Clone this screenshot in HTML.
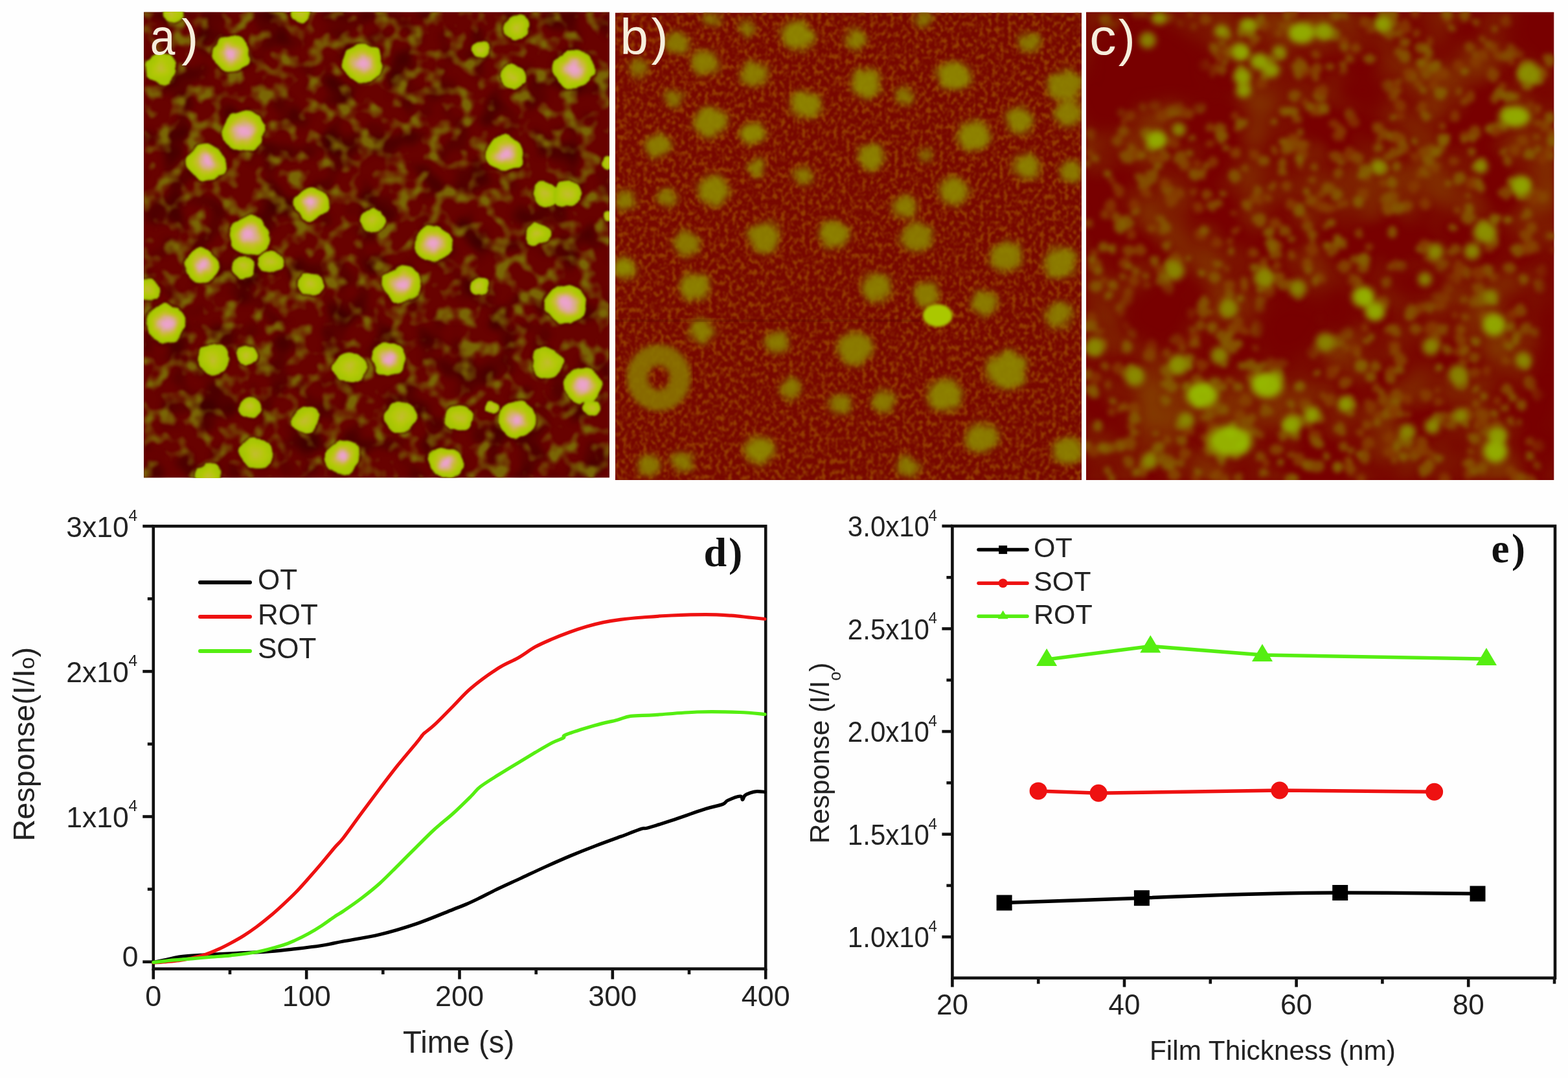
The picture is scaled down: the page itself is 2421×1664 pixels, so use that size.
<!DOCTYPE html>
<html><head><meta charset="utf-8"><title>AFM images and sensor response</title>
<style>html,body{margin:0;padding:0;background:#fff;}body{width:2421px;height:1664px;overflow:hidden;}svg{display:block;}</style>
</head><body>
<svg width="2421" height="1664" viewBox="0 0 2421 1664">
<rect x="0" y="0" width="2421" height="1664" fill="#fefefe"/>
<defs>
<clipPath id="clipA"><rect x="222.0" y="18.5" width="719.0" height="719.0"/></clipPath>
<clipPath id="clipB"><rect x="950.0" y="19.5" width="720.0" height="721.5"/></clipPath>
<clipPath id="clipC"><rect x="1677.0" y="18.5" width="722.5" height="722.5"/></clipPath>
<radialGradient id="gPink" cx="50%" cy="50%" r="50%"><stop offset="0" stop-color="#eea2d0"/><stop offset="0.18" stop-color="#e8a4c0"/><stop offset="0.38" stop-color="#d8ae80"/><stop offset="0.55" stop-color="#c8bc30"/><stop offset="0.72" stop-color="#b4c808"/><stop offset="0.9" stop-color="#a8c800"/><stop offset="1" stop-color="#9cc000"/></radialGradient>
<radialGradient id="gYG" cx="50%" cy="50%" r="50%"><stop offset="0" stop-color="#c4bc30"/><stop offset="0.5" stop-color="#b4c808"/><stop offset="1" stop-color="#a0c400"/></radialGradient>
<filter color-interpolation-filters="sRGB" id="bl2" x="-20%" y="-20%" width="140%" height="140%"><feGaussianBlur stdDeviation="2.2"/></filter>
<filter color-interpolation-filters="sRGB" id="bl4" x="-30%" y="-30%" width="160%" height="160%"><feGaussianBlur stdDeviation="4"/></filter>
<filter color-interpolation-filters="sRGB" id="bl12" x="-50%" y="-50%" width="200%" height="200%"><feGaussianBlur stdDeviation="14"/></filter>
<filter color-interpolation-filters="sRGB" id="bl6" x="-30%" y="-30%" width="160%" height="160%"><feGaussianBlur stdDeviation="6"/></filter>
<filter color-interpolation-filters="sRGB" id="texA" x="0" y="0" width="100%" height="100%" filterUnits="objectBoundingBox"><feTurbulence type="fractalNoise" baseFrequency="0.038" numOctaves="2" seed="7"/><feColorMatrix type="matrix" values="0 0 0 0 0.48  0 0 0 0 0.40  0 0 0 0 0.02  4.0 0 0 0 -1.95"/><feGaussianBlur stdDeviation="1.5"/></filter>
<filter color-interpolation-filters="sRGB" id="texB" x="0" y="0" width="100%" height="100%" filterUnits="objectBoundingBox"><feTurbulence type="fractalNoise" baseFrequency="0.16 0.12" numOctaves="2" seed="11"/><feColorMatrix type="matrix" values="0 0 0 0 0.58  0 0 0 0 0.24  0 0 0 0 0  3.4 0 0 0 -1.50"/><feGaussianBlur stdDeviation="0.8"/></filter>
<filter color-interpolation-filters="sRGB" id="roughB" x="-10%" y="-10%" width="120%" height="120%"><feTurbulence type="fractalNoise" baseFrequency="0.06" numOctaves="3" seed="5" result="t"/><feDisplacementMap in="SourceGraphic" in2="t" scale="16" xChannelSelector="R" yChannelSelector="G" result="d"/><feGaussianBlur in="d" stdDeviation="4.2"/></filter>
<filter color-interpolation-filters="sRGB" id="roughA" x="-10%" y="-10%" width="120%" height="120%"><feTurbulence type="fractalNoise" baseFrequency="0.04" numOctaves="2" seed="9" result="t"/><feDisplacementMap in="SourceGraphic" in2="t" scale="13" xChannelSelector="R" yChannelSelector="G" result="d"/><feGaussianBlur in="d" stdDeviation="1.6"/></filter>
<filter color-interpolation-filters="sRGB" id="texC" x="0" y="0" width="100%" height="100%" filterUnits="objectBoundingBox"><feTurbulence type="fractalNoise" baseFrequency="0.07" numOctaves="2" seed="19"/><feColorMatrix type="matrix" values="0 0 0 0 0.50  0 0 0 0 0.36  0 0 0 0 0  3.4 0 0 0 -1.65"/><feGaussianBlur stdDeviation="1.8"/></filter>
<filter color-interpolation-filters="sRGB" id="hazeC" x="0" y="0" width="100%" height="100%" filterUnits="objectBoundingBox"><feTurbulence type="fractalNoise" baseFrequency="0.012" numOctaves="2" seed="3"/><feColorMatrix type="matrix" values="0 0 0 0 0.52  0 0 0 0 0.26  0 0 0 0 0  1.6 0 0 0 -0.55"/><feGaussianBlur stdDeviation="4"/></filter>
<filter color-interpolation-filters="sRGB" id="roughC" x="-10%" y="-10%" width="120%" height="120%"><feTurbulence type="fractalNoise" baseFrequency="0.09" numOctaves="2" seed="15" result="t"/><feDisplacementMap in="SourceGraphic" in2="t" scale="8" xChannelSelector="R" yChannelSelector="G" result="d"/><feGaussianBlur in="d" stdDeviation="3.6"/></filter>
<filter color-interpolation-filters="sRGB" id="darkA" x="0" y="0" width="100%" height="100%" filterUnits="objectBoundingBox"><feTurbulence type="fractalNoise" baseFrequency="0.02" numOctaves="2" seed="23"/><feColorMatrix type="matrix" values="0 0 0 0 0.25  0 0 0 0 0  0 0 0 0 0  3.0 0 0 0 -1.45"/><feGaussianBlur stdDeviation="3"/></filter>
</defs>
<g clip-path="url(#clipA)">
<rect x="222.0" y="18.5" width="719.0" height="719.0" fill="#680200"/>
<rect x="222.0" y="18.5" width="719.0" height="719.0" fill="#000" filter="url(#darkA)"/>
<rect x="222.0" y="18.5" width="719.0" height="719.0" fill="#000" filter="url(#texA)"/>
<g filter="url(#roughA)">
<ellipse cx="357" cy="83" rx="32" ry="31" fill="#4c0000" opacity="0.55"/>
<ellipse cx="248" cy="105" rx="27" ry="26" fill="#4c0000" opacity="0.55"/>
<ellipse cx="560" cy="98" rx="34" ry="33" fill="#4c0000" opacity="0.55"/>
<ellipse cx="798" cy="43" rx="24" ry="23" fill="#4c0000" opacity="0.55"/>
<ellipse cx="743" cy="76" rx="17" ry="16" fill="#4c0000" opacity="0.55"/>
<ellipse cx="793" cy="119" rx="22" ry="21" fill="#4c0000" opacity="0.55"/>
<ellipse cx="886" cy="107" rx="34" ry="33" fill="#4c0000" opacity="0.55"/>
<ellipse cx="376" cy="202" rx="36" ry="35" fill="#4c0000" opacity="0.55"/>
<ellipse cx="319" cy="250" rx="32" ry="31" fill="#4c0000" opacity="0.55"/>
<ellipse cx="781" cy="238" rx="32" ry="31" fill="#4c0000" opacity="0.55"/>
<ellipse cx="481" cy="314" rx="29" ry="28" fill="#4c0000" opacity="0.55"/>
<ellipse cx="843" cy="300" rx="22" ry="21" fill="#4c0000" opacity="0.55"/>
<ellipse cx="876" cy="300" rx="24" ry="23" fill="#4c0000" opacity="0.55"/>
<ellipse cx="576" cy="340" rx="22" ry="21" fill="#4c0000" opacity="0.55"/>
<ellipse cx="386" cy="364" rx="34" ry="33" fill="#4c0000" opacity="0.55"/>
<ellipse cx="669" cy="376" rx="32" ry="31" fill="#4c0000" opacity="0.55"/>
<ellipse cx="829" cy="362" rx="22" ry="21" fill="#4c0000" opacity="0.55"/>
<ellipse cx="312" cy="410" rx="29" ry="28" fill="#4c0000" opacity="0.55"/>
<ellipse cx="376" cy="412" rx="20" ry="19" fill="#4c0000" opacity="0.55"/>
<ellipse cx="417" cy="405" rx="22" ry="21" fill="#4c0000" opacity="0.55"/>
<ellipse cx="481" cy="438" rx="22" ry="21" fill="#4c0000" opacity="0.55"/>
<ellipse cx="621" cy="438" rx="32" ry="31" fill="#4c0000" opacity="0.55"/>
<ellipse cx="740" cy="443" rx="17" ry="16" fill="#4c0000" opacity="0.55"/>
<ellipse cx="229" cy="448" rx="21" ry="20" fill="#4c0000" opacity="0.55"/>
<ellipse cx="874" cy="469" rx="34" ry="33" fill="#4c0000" opacity="0.55"/>
<ellipse cx="257" cy="500" rx="34" ry="33" fill="#4c0000" opacity="0.55"/>
<ellipse cx="329" cy="555" rx="27" ry="26" fill="#4c0000" opacity="0.55"/>
<ellipse cx="381" cy="548" rx="20" ry="19" fill="#4c0000" opacity="0.55"/>
<ellipse cx="540" cy="567" rx="27" ry="26" fill="#4c0000" opacity="0.55"/>
<ellipse cx="600" cy="555" rx="29" ry="28" fill="#4c0000" opacity="0.55"/>
<ellipse cx="845" cy="560" rx="27" ry="26" fill="#4c0000" opacity="0.55"/>
<ellipse cx="900" cy="595" rx="32" ry="31" fill="#4c0000" opacity="0.55"/>
<ellipse cx="914" cy="631" rx="17" ry="16" fill="#4c0000" opacity="0.55"/>
<ellipse cx="386" cy="629" rx="20" ry="19" fill="#4c0000" opacity="0.55"/>
<ellipse cx="471" cy="648" rx="24" ry="23" fill="#4c0000" opacity="0.55"/>
<ellipse cx="619" cy="643" rx="27" ry="26" fill="#4c0000" opacity="0.55"/>
<ellipse cx="710" cy="645" rx="24" ry="23" fill="#4c0000" opacity="0.55"/>
<ellipse cx="760" cy="629" rx="13" ry="12" fill="#4c0000" opacity="0.55"/>
<ellipse cx="798" cy="648" rx="32" ry="31" fill="#4c0000" opacity="0.55"/>
<ellipse cx="395" cy="700" rx="27" ry="26" fill="#4c0000" opacity="0.55"/>
<ellipse cx="529" cy="705" rx="29" ry="28" fill="#4c0000" opacity="0.55"/>
<ellipse cx="688" cy="714" rx="29" ry="28" fill="#4c0000" opacity="0.55"/>
<ellipse cx="321" cy="734" rx="23" ry="22" fill="#4c0000" opacity="0.55"/>
<ellipse cx="464" cy="21" rx="18" ry="17" fill="#4c0000" opacity="0.55"/>
<ellipse cx="267" cy="22" rx="17" ry="16" fill="#4c0000" opacity="0.55"/>
<ellipse cx="940" cy="250" rx="13" ry="12" fill="#4c0000" opacity="0.55"/>
<ellipse cx="940" cy="335" rx="12" ry="11" fill="#4c0000" opacity="0.55"/>
<ellipse cx="357" cy="83" rx="29.6" ry="27.8" fill="url(#gPink)"/>
<ellipse cx="248" cy="105" rx="24.5" ry="23.0" fill="url(#gYG)"/>
<ellipse cx="560" cy="98" rx="31.6" ry="29.8" fill="url(#gPink)"/>
<ellipse cx="798" cy="43" rx="21.4" ry="20.2" fill="url(#gYG)"/>
<ellipse cx="743" cy="76" rx="14.3" ry="13.4" fill="url(#gYG)"/>
<ellipse cx="793" cy="119" rx="19.4" ry="18.2" fill="url(#gYG)"/>
<ellipse cx="886" cy="107" rx="31.6" ry="29.8" fill="url(#gPink)"/>
<ellipse cx="376" cy="202" rx="33.7" ry="31.7" fill="url(#gPink)"/>
<ellipse cx="319" cy="250" rx="29.6" ry="27.8" fill="url(#gPink)"/>
<ellipse cx="781" cy="238" rx="29.6" ry="27.8" fill="url(#gPink)"/>
<ellipse cx="481" cy="314" rx="26.5" ry="25.0" fill="url(#gPink)"/>
<ellipse cx="843" cy="300" rx="19.4" ry="18.2" fill="url(#gYG)"/>
<ellipse cx="876" cy="300" rx="21.4" ry="20.2" fill="url(#gYG)"/>
<ellipse cx="576" cy="340" rx="19.4" ry="18.2" fill="url(#gYG)"/>
<ellipse cx="386" cy="364" rx="31.6" ry="29.8" fill="url(#gPink)"/>
<ellipse cx="669" cy="376" rx="29.6" ry="27.8" fill="url(#gPink)"/>
<ellipse cx="829" cy="362" rx="19.4" ry="18.2" fill="url(#gYG)"/>
<ellipse cx="312" cy="410" rx="26.5" ry="25.0" fill="url(#gPink)"/>
<ellipse cx="376" cy="412" rx="17.3" ry="16.3" fill="url(#gYG)"/>
<ellipse cx="417" cy="405" rx="19.4" ry="18.2" fill="url(#gYG)"/>
<ellipse cx="481" cy="438" rx="19.4" ry="18.2" fill="url(#gYG)"/>
<ellipse cx="621" cy="438" rx="29.6" ry="27.8" fill="url(#gPink)"/>
<ellipse cx="740" cy="443" rx="14.3" ry="13.4" fill="url(#gYG)"/>
<ellipse cx="229" cy="448" rx="18.4" ry="17.3" fill="url(#gYG)"/>
<ellipse cx="874" cy="469" rx="31.6" ry="29.8" fill="url(#gPink)"/>
<ellipse cx="257" cy="500" rx="31.6" ry="29.8" fill="url(#gPink)"/>
<ellipse cx="329" cy="555" rx="24.5" ry="23.0" fill="url(#gYG)"/>
<ellipse cx="381" cy="548" rx="17.3" ry="16.3" fill="url(#gYG)"/>
<ellipse cx="540" cy="567" rx="24.5" ry="23.0" fill="url(#gYG)"/>
<ellipse cx="600" cy="555" rx="26.5" ry="25.0" fill="url(#gPink)"/>
<ellipse cx="845" cy="560" rx="24.5" ry="23.0" fill="url(#gYG)"/>
<ellipse cx="900" cy="595" rx="29.6" ry="27.8" fill="url(#gPink)"/>
<ellipse cx="914" cy="631" rx="14.3" ry="13.4" fill="url(#gYG)"/>
<ellipse cx="386" cy="629" rx="17.3" ry="16.3" fill="url(#gYG)"/>
<ellipse cx="471" cy="648" rx="21.4" ry="20.2" fill="url(#gYG)"/>
<ellipse cx="619" cy="643" rx="24.5" ry="23.0" fill="url(#gYG)"/>
<ellipse cx="710" cy="645" rx="21.4" ry="20.2" fill="url(#gYG)"/>
<ellipse cx="760" cy="629" rx="10.2" ry="9.6" fill="url(#gYG)"/>
<ellipse cx="798" cy="648" rx="29.6" ry="27.8" fill="url(#gPink)"/>
<ellipse cx="395" cy="700" rx="24.5" ry="23.0" fill="url(#gYG)"/>
<ellipse cx="529" cy="705" rx="26.5" ry="25.0" fill="url(#gPink)"/>
<ellipse cx="688" cy="714" rx="26.5" ry="25.0" fill="url(#gPink)"/>
<ellipse cx="321" cy="734" rx="20.4" ry="19.2" fill="url(#gYG)"/>
<ellipse cx="464" cy="21" rx="15.3" ry="14.4" fill="url(#gYG)"/>
<ellipse cx="267" cy="22" rx="14.3" ry="13.4" fill="url(#gYG)"/>
<ellipse cx="940" cy="250" rx="10.2" ry="9.6" fill="url(#gYG)"/>
<ellipse cx="940" cy="335" rx="9.2" ry="8.6" fill="url(#gYG)"/>
</g>
<text x="231.7" y="84.4" font-family="Liberation Sans, Arial, sans-serif" font-size="78" fill="#f6eedc" transform="translate(231.7,0) scale(0.89,1) translate(-231.7,0)">a</text>
<text x="280.2" y="85" font-family="Liberation Sans, Arial, sans-serif" font-size="78" fill="#f6eedc">)</text>
</g>
<g clip-path="url(#clipB)">
<rect x="950.0" y="19.5" width="720.0" height="721.5" fill="#780800"/>
<rect x="950.0" y="19.5" width="720.0" height="721.5" fill="#000" filter="url(#texB)"/>
<g filter="url(#roughB)">
<ellipse cx="1230.5" cy="54.8" rx="28.9" ry="27.1" fill="#8e8a00" opacity="0.42"/>
<ellipse cx="1321" cy="62" rx="20.6" ry="19.4" fill="#8c8300" opacity="0.42"/>
<ellipse cx="1087.6" cy="97.6" rx="24.3" ry="22.8" fill="#8c8300" opacity="0.42"/>
<ellipse cx="1163.8" cy="114" rx="24.3" ry="22.8" fill="#8c8300" opacity="0.42"/>
<ellipse cx="1337.6" cy="128.6" rx="27.1" ry="25.4" fill="#8e8a00" opacity="0.42"/>
<ellipse cx="1473.3" cy="116.7" rx="28.9" ry="27.1" fill="#8e8a00" opacity="0.42"/>
<ellipse cx="1590" cy="66.7" rx="20.6" ry="19.4" fill="#8a7d00" opacity="0.42"/>
<ellipse cx="1644.8" cy="133" rx="30.8" ry="28.8" fill="#8c8300" opacity="0.42"/>
<ellipse cx="1650" cy="175" rx="25.2" ry="23.7" fill="#8c8300" opacity="0.42"/>
<ellipse cx="1244.8" cy="162" rx="27.1" ry="25.4" fill="#8e8a00" opacity="0.42"/>
<ellipse cx="1397" cy="147.6" rx="17.9" ry="16.9" fill="#8a7d00" opacity="0.42"/>
<ellipse cx="1097" cy="188" rx="28.9" ry="27.1" fill="#8d8600" opacity="0.42"/>
<ellipse cx="1161" cy="204.8" rx="22.5" ry="21.1" fill="#8f8d00" opacity="0.42"/>
<ellipse cx="1016" cy="224" rx="24.3" ry="22.8" fill="#8c8300" opacity="0.42"/>
<ellipse cx="1504" cy="209.5" rx="28.9" ry="27.1" fill="#8e8a00" opacity="0.42"/>
<ellipse cx="1573" cy="185.7" rx="24.3" ry="22.8" fill="#8d8600" opacity="0.42"/>
<ellipse cx="1344.8" cy="243" rx="24.3" ry="22.8" fill="#8d8600" opacity="0.42"/>
<ellipse cx="1168.6" cy="259.5" rx="16.0" ry="15.2" fill="#8c8300" opacity="0.42"/>
<ellipse cx="1240" cy="271.4" rx="17.9" ry="16.9" fill="#8b8000" opacity="0.42"/>
<ellipse cx="1585" cy="257" rx="24.3" ry="22.8" fill="#8d8600" opacity="0.42"/>
<ellipse cx="1654" cy="264" rx="20.6" ry="19.4" fill="#8b8000" opacity="0.42"/>
<ellipse cx="1102" cy="295" rx="28.9" ry="27.1" fill="#8d8600" opacity="0.42"/>
<ellipse cx="1030.5" cy="304.8" rx="17.9" ry="16.9" fill="#8a7d00" opacity="0.42"/>
<ellipse cx="966" cy="309.5" rx="20.6" ry="19.4" fill="#8b8000" opacity="0.42"/>
<ellipse cx="1473" cy="295" rx="27.1" ry="25.4" fill="#8d8600" opacity="0.42"/>
<ellipse cx="1397" cy="319" rx="22.5" ry="21.1" fill="#8c8300" opacity="0.42"/>
<ellipse cx="1180.5" cy="366.7" rx="28.9" ry="27.1" fill="#8c8300" opacity="0.42"/>
<ellipse cx="1287.6" cy="362" rx="27.1" ry="25.4" fill="#8d8600" opacity="0.42"/>
<ellipse cx="1416" cy="366.7" rx="28.9" ry="27.1" fill="#8b8000" opacity="0.42"/>
<ellipse cx="1059" cy="376" rx="24.3" ry="22.8" fill="#8b8000" opacity="0.42"/>
<ellipse cx="1554" cy="395" rx="28.9" ry="27.1" fill="#8c8300" opacity="0.42"/>
<ellipse cx="1637" cy="405" rx="28.9" ry="27.1" fill="#8c8300" opacity="0.42"/>
<ellipse cx="963.8" cy="414" rx="20.6" ry="19.4" fill="#909000" opacity="0.42"/>
<ellipse cx="1073" cy="443" rx="27.1" ry="25.4" fill="#8d8600" opacity="0.42"/>
<ellipse cx="1354" cy="445" rx="27.1" ry="25.4" fill="#8c8300" opacity="0.42"/>
<ellipse cx="1429" cy="455" rx="23.4" ry="22.0" fill="#8c8300" opacity="0.42"/>
<ellipse cx="1521" cy="466.7" rx="24.3" ry="22.8" fill="#8c8300" opacity="0.42"/>
<ellipse cx="1635" cy="485.7" rx="24.3" ry="22.8" fill="#8b8000" opacity="0.42"/>
<ellipse cx="1083" cy="512" rx="22.5" ry="21.1" fill="#8c8300" opacity="0.42"/>
<ellipse cx="1199.5" cy="528.6" rx="22.5" ry="21.1" fill="#8b8000" opacity="0.42"/>
<ellipse cx="1321" cy="538" rx="30.8" ry="28.8" fill="#8c8300" opacity="0.42"/>
<ellipse cx="1554" cy="571" rx="35.4" ry="33.0" fill="#8d8600" opacity="0.42"/>
<ellipse cx="1459" cy="609.5" rx="30.8" ry="28.8" fill="#8d8600" opacity="0.42"/>
<ellipse cx="1221" cy="600" rx="20.6" ry="19.4" fill="#8b8000" opacity="0.42"/>
<ellipse cx="1297" cy="624" rx="20.6" ry="19.4" fill="#8a7d00" opacity="0.42"/>
<ellipse cx="1364" cy="619" rx="22.5" ry="21.1" fill="#8b8000" opacity="0.42"/>
<ellipse cx="1516" cy="676" rx="28.9" ry="27.1" fill="#8c8300" opacity="0.42"/>
<ellipse cx="1173" cy="695" rx="27.1" ry="25.4" fill="#8e8a00" opacity="0.42"/>
<ellipse cx="1649.5" cy="695" rx="27.1" ry="25.4" fill="#8c8300" opacity="0.42"/>
<ellipse cx="1002" cy="719" rx="20.6" ry="19.4" fill="#8a7d00" opacity="0.42"/>
<ellipse cx="1054" cy="712" rx="20.6" ry="19.4" fill="#8a7d00" opacity="0.42"/>
<ellipse cx="1402" cy="719" rx="20.6" ry="19.4" fill="#8a7d00" opacity="0.42"/>
<ellipse cx="1100" cy="30" rx="17.0" ry="16.0" fill="#866f00" opacity="0.42"/>
<ellipse cx="1045" cy="66" rx="21.6" ry="20.3" fill="#8a7d00" opacity="0.42"/>
<ellipse cx="1425" cy="30" rx="16.0" ry="15.2" fill="#887600" opacity="0.42"/>
<ellipse cx="1430" cy="240" rx="14.2" ry="13.5" fill="#887600" opacity="0.42"/>
<ellipse cx="986" cy="105" rx="18.8" ry="17.8" fill="#887600" opacity="0.42"/>
<ellipse cx="1040" cy="152" rx="17.9" ry="16.9" fill="#887600" opacity="0.42"/>
<ellipse cx="1153" cy="44" rx="16.0" ry="15.2" fill="#887600" opacity="0.42"/>
<ellipse cx="1230.5" cy="54.8" rx="22.1" ry="20.3" fill="#8e8a00" opacity="0.88"/>
<ellipse cx="1321" cy="62" rx="14.4" ry="13.3" fill="#8c8300" opacity="0.88"/>
<ellipse cx="1087.6" cy="97.6" rx="17.8" ry="16.4" fill="#8c8300" opacity="0.88"/>
<ellipse cx="1163.8" cy="114" rx="17.8" ry="16.4" fill="#8c8300" opacity="0.88"/>
<ellipse cx="1337.6" cy="128.6" rx="20.4" ry="18.7" fill="#8e8a00" opacity="0.88"/>
<ellipse cx="1473.3" cy="116.7" rx="22.1" ry="20.3" fill="#8e8a00" opacity="0.88"/>
<ellipse cx="1590" cy="66.7" rx="14.4" ry="13.3" fill="#8a7d00" opacity="0.88"/>
<ellipse cx="1644.8" cy="133" rx="23.8" ry="21.8" fill="#8c8300" opacity="0.88"/>
<ellipse cx="1650" cy="175" rx="18.7" ry="17.2" fill="#8c8300" opacity="0.88"/>
<ellipse cx="1244.8" cy="162" rx="20.4" ry="18.7" fill="#8e8a00" opacity="0.88"/>
<ellipse cx="1397" cy="147.6" rx="11.9" ry="10.9" fill="#8a7d00" opacity="0.88"/>
<ellipse cx="1097" cy="188" rx="22.1" ry="20.3" fill="#8d8600" opacity="0.88"/>
<ellipse cx="1161" cy="204.8" rx="16.1" ry="14.8" fill="#8f8d00" opacity="0.88"/>
<ellipse cx="1016" cy="224" rx="17.8" ry="16.4" fill="#8c8300" opacity="0.88"/>
<ellipse cx="1504" cy="209.5" rx="22.1" ry="20.3" fill="#8e8a00" opacity="0.88"/>
<ellipse cx="1573" cy="185.7" rx="17.8" ry="16.4" fill="#8d8600" opacity="0.88"/>
<ellipse cx="1344.8" cy="243" rx="17.8" ry="16.4" fill="#8d8600" opacity="0.88"/>
<ellipse cx="1168.6" cy="259.5" rx="10.2" ry="9.4" fill="#8c8300" opacity="0.88"/>
<ellipse cx="1240" cy="271.4" rx="11.9" ry="10.9" fill="#8b8000" opacity="0.88"/>
<ellipse cx="1585" cy="257" rx="17.8" ry="16.4" fill="#8d8600" opacity="0.88"/>
<ellipse cx="1654" cy="264" rx="14.4" ry="13.3" fill="#8b8000" opacity="0.88"/>
<ellipse cx="1102" cy="295" rx="22.1" ry="20.3" fill="#8d8600" opacity="0.88"/>
<ellipse cx="1030.5" cy="304.8" rx="11.9" ry="10.9" fill="#8a7d00" opacity="0.88"/>
<ellipse cx="966" cy="309.5" rx="14.4" ry="13.3" fill="#8b8000" opacity="0.88"/>
<ellipse cx="1473" cy="295" rx="20.4" ry="18.7" fill="#8d8600" opacity="0.88"/>
<ellipse cx="1397" cy="319" rx="16.1" ry="14.8" fill="#8c8300" opacity="0.88"/>
<ellipse cx="1180.5" cy="366.7" rx="22.1" ry="20.3" fill="#8c8300" opacity="0.88"/>
<ellipse cx="1287.6" cy="362" rx="20.4" ry="18.7" fill="#8d8600" opacity="0.88"/>
<ellipse cx="1416" cy="366.7" rx="22.1" ry="20.3" fill="#8b8000" opacity="0.88"/>
<ellipse cx="1059" cy="376" rx="17.8" ry="16.4" fill="#8b8000" opacity="0.88"/>
<ellipse cx="1554" cy="395" rx="22.1" ry="20.3" fill="#8c8300" opacity="0.88"/>
<ellipse cx="1637" cy="405" rx="22.1" ry="20.3" fill="#8c8300" opacity="0.88"/>
<ellipse cx="963.8" cy="414" rx="14.4" ry="13.3" fill="#909000" opacity="0.88"/>
<ellipse cx="1073" cy="443" rx="20.4" ry="18.7" fill="#8d8600" opacity="0.88"/>
<ellipse cx="1354" cy="445" rx="20.4" ry="18.7" fill="#8c8300" opacity="0.88"/>
<ellipse cx="1429" cy="455" rx="17.0" ry="15.6" fill="#8c8300" opacity="0.88"/>
<ellipse cx="1521" cy="466.7" rx="17.8" ry="16.4" fill="#8c8300" opacity="0.88"/>
<ellipse cx="1635" cy="485.7" rx="17.8" ry="16.4" fill="#8b8000" opacity="0.88"/>
<ellipse cx="1083" cy="512" rx="16.1" ry="14.8" fill="#8c8300" opacity="0.88"/>
<ellipse cx="1199.5" cy="528.6" rx="16.1" ry="14.8" fill="#8b8000" opacity="0.88"/>
<ellipse cx="1321" cy="538" rx="23.8" ry="21.8" fill="#8c8300" opacity="0.88"/>
<ellipse cx="1554" cy="571" rx="28.1" ry="25.7" fill="#8d8600" opacity="0.88"/>
<ellipse cx="1459" cy="609.5" rx="23.8" ry="21.8" fill="#8d8600" opacity="0.88"/>
<ellipse cx="1221" cy="600" rx="14.4" ry="13.3" fill="#8b8000" opacity="0.88"/>
<ellipse cx="1297" cy="624" rx="14.4" ry="13.3" fill="#8a7d00" opacity="0.88"/>
<ellipse cx="1364" cy="619" rx="16.1" ry="14.8" fill="#8b8000" opacity="0.88"/>
<ellipse cx="1516" cy="676" rx="22.1" ry="20.3" fill="#8c8300" opacity="0.88"/>
<ellipse cx="1173" cy="695" rx="20.4" ry="18.7" fill="#8e8a00" opacity="0.88"/>
<ellipse cx="1649.5" cy="695" rx="20.4" ry="18.7" fill="#8c8300" opacity="0.88"/>
<ellipse cx="1002" cy="719" rx="14.4" ry="13.3" fill="#8a7d00" opacity="0.88"/>
<ellipse cx="1054" cy="712" rx="14.4" ry="13.3" fill="#8a7d00" opacity="0.88"/>
<ellipse cx="1402" cy="719" rx="14.4" ry="13.3" fill="#8a7d00" opacity="0.88"/>
<ellipse cx="1100" cy="30" rx="11.0" ry="10.1" fill="#866f00" opacity="0.88"/>
<ellipse cx="1045" cy="66" rx="15.3" ry="14.0" fill="#8a7d00" opacity="0.88"/>
<ellipse cx="1425" cy="30" rx="10.2" ry="9.4" fill="#887600" opacity="0.88"/>
<ellipse cx="1430" cy="240" rx="8.5" ry="7.8" fill="#887600" opacity="0.88"/>
<ellipse cx="986" cy="105" rx="12.8" ry="11.7" fill="#887600" opacity="0.88"/>
<ellipse cx="1040" cy="152" rx="11.9" ry="10.9" fill="#887600" opacity="0.88"/>
<ellipse cx="1153" cy="44" rx="10.2" ry="9.4" fill="#887600" opacity="0.88"/>
</g>
<g filter="url(#bl4)"><ellipse cx="1017" cy="583" rx="33" ry="35" fill="none" stroke="#8a7400" stroke-width="33" opacity="0.9"/></g>
<g filter="url(#bl2)"><ellipse cx="1447.7" cy="487" rx="23" ry="17.5" fill="#aac800"/></g>
<rect x="950" y="493" width="470" height="4" fill="#4a0000" opacity="0.18"/>
<text x="957.4" y="84.3" font-family="Liberation Sans, Arial, sans-serif" font-size="78" fill="#f6eedc" transform="translate(957.4,0) scale(1.0,1) translate(-957.4,0)">b</text>
<text x="1005.4" y="83.5" font-family="Liberation Sans, Arial, sans-serif" font-size="78" fill="#f6eedc">)</text>
</g>
<mask id="maskC" maskUnits="userSpaceOnUse" x="1677" y="18" width="723" height="724">
<rect x="1677.0" y="18.5" width="722.5" height="722.5" fill="#fff"/>
<g filter="url(#bl12)">
<ellipse cx="1770" cy="95" rx="95" ry="70" fill="#000"/>
<ellipse cx="1700" cy="160" rx="30" ry="50" fill="#000"/>
<ellipse cx="1850" cy="140" rx="45" ry="25" fill="#000"/>
<ellipse cx="1785" cy="487" rx="55" ry="42" fill="#000"/>
<ellipse cx="1990" cy="507" rx="52" ry="52" fill="#000"/>
<ellipse cx="2065" cy="475" rx="32" ry="42" fill="#000"/>
<ellipse cx="2195" cy="435" rx="48" ry="26" fill="#000"/>
<ellipse cx="2370" cy="45" rx="40" ry="35" fill="#000"/>
<ellipse cx="2392" cy="560" rx="18" ry="190" fill="#000"/>
<ellipse cx="2100" cy="140" rx="40" ry="30" fill="#000"/>
</g></mask>
<g clip-path="url(#clipC)">
<rect x="1677.0" y="18.5" width="722.5" height="722.5" fill="#780000"/>
<rect x="1677.0" y="18.5" width="722.5" height="722.5" fill="#000" filter="url(#hazeC)" mask="url(#maskC)"/>
<g filter="url(#roughC)" mask="url(#maskC)">
<circle cx="2139.0" cy="36.6" r="6.5" fill="#874300" opacity="0.8"/>
<circle cx="2209.1" cy="507.4" r="9.9" fill="#873c00" opacity="0.8"/>
<circle cx="1981.8" cy="40.0" r="6.2" fill="#865100" opacity="0.8"/>
<circle cx="2146.5" cy="412.2" r="6.2" fill="#865500" opacity="0.8"/>
<circle cx="2261.8" cy="23.2" r="9.4" fill="#865a00" opacity="0.8"/>
<circle cx="1922.8" cy="130.8" r="10.3" fill="#874800" opacity="0.8"/>
<circle cx="2289.3" cy="454.7" r="9.4" fill="#865c00" opacity="0.8"/>
<circle cx="2064.4" cy="721.6" r="7.1" fill="#865300" opacity="0.8"/>
<circle cx="2276.2" cy="465.4" r="9.7" fill="#865400" opacity="0.8"/>
<circle cx="2186.1" cy="51.6" r="6.3" fill="#874600" opacity="0.8"/>
<circle cx="1734.6" cy="186.7" r="5.6" fill="#874500" opacity="0.8"/>
<circle cx="2136.3" cy="282.1" r="7.0" fill="#874200" opacity="0.8"/>
<circle cx="1869.9" cy="695.2" r="8.6" fill="#865600" opacity="0.8"/>
<circle cx="1800.6" cy="545.3" r="5.9" fill="#874a00" opacity="0.8"/>
<circle cx="2079.4" cy="513.1" r="9.6" fill="#865e00" opacity="0.8"/>
<circle cx="1842.5" cy="41.7" r="6.7" fill="#874500" opacity="0.8"/>
<circle cx="1829.4" cy="699.8" r="9.8" fill="#874700" opacity="0.8"/>
<circle cx="2150.6" cy="304.3" r="10.0" fill="#874e00" opacity="0.8"/>
<circle cx="1868.4" cy="196.7" r="8.1" fill="#874500" opacity="0.8"/>
<circle cx="2099.4" cy="667.2" r="7.2" fill="#874200" opacity="0.8"/>
<circle cx="2397.7" cy="386.6" r="5.5" fill="#873a00" opacity="0.8"/>
<circle cx="2249.3" cy="323.5" r="5.3" fill="#874b00" opacity="0.8"/>
<circle cx="1685.3" cy="539.2" r="8.7" fill="#865200" opacity="0.8"/>
<circle cx="1869.8" cy="481.6" r="5.6" fill="#874d00" opacity="0.8"/>
<circle cx="2004.8" cy="707.6" r="9.8" fill="#874500" opacity="0.8"/>
<circle cx="2038.7" cy="147.6" r="10.0" fill="#866300" opacity="0.8"/>
<circle cx="1892.6" cy="480.1" r="8.3" fill="#873f00" opacity="0.8"/>
<circle cx="2227.9" cy="408.2" r="9.3" fill="#865200" opacity="0.8"/>
<circle cx="1677.4" cy="252.7" r="5.1" fill="#866600" opacity="0.8"/>
<circle cx="2311.9" cy="619.4" r="6.7" fill="#873a00" opacity="0.8"/>
<circle cx="2311.4" cy="702.7" r="5.5" fill="#875000" opacity="0.8"/>
<circle cx="1727.0" cy="568.0" r="9.2" fill="#873e00" opacity="0.8"/>
<circle cx="2020.4" cy="415.7" r="6.5" fill="#866300" opacity="0.8"/>
<circle cx="1982.7" cy="171.5" r="8.0" fill="#865c00" opacity="0.8"/>
<circle cx="1822.3" cy="243.7" r="10.5" fill="#865800" opacity="0.8"/>
<circle cx="1993.5" cy="392.4" r="5.7" fill="#874300" opacity="0.8"/>
<circle cx="1921.3" cy="443.6" r="6.3" fill="#874300" opacity="0.8"/>
<circle cx="1728.3" cy="474.5" r="6.3" fill="#866500" opacity="0.8"/>
<circle cx="2298.1" cy="69.7" r="6.3" fill="#865900" opacity="0.8"/>
<circle cx="2352.9" cy="431.1" r="7.6" fill="#865f00" opacity="0.8"/>
<circle cx="2260.4" cy="156.1" r="5.5" fill="#874d00" opacity="0.8"/>
<circle cx="1983.0" cy="355.9" r="9.0" fill="#865900" opacity="0.8"/>
<circle cx="2388.1" cy="89.6" r="7.2" fill="#874800" opacity="0.8"/>
<circle cx="2299.6" cy="198.2" r="6.0" fill="#874e00" opacity="0.8"/>
<circle cx="1981.8" cy="219.7" r="6.4" fill="#866600" opacity="0.8"/>
<circle cx="1997.2" cy="640.8" r="8.0" fill="#873a00" opacity="0.8"/>
<circle cx="2377.1" cy="687.8" r="9.7" fill="#874000" opacity="0.8"/>
<circle cx="2027.9" cy="172.9" r="7.2" fill="#873a00" opacity="0.8"/>
<circle cx="1950.8" cy="730.4" r="6.5" fill="#865f00" opacity="0.8"/>
<circle cx="2005.7" cy="324.1" r="10.3" fill="#866900" opacity="0.8"/>
<circle cx="2078.5" cy="537.5" r="5.9" fill="#874600" opacity="0.8"/>
<circle cx="2376.9" cy="437.0" r="8.0" fill="#865d00" opacity="0.8"/>
<circle cx="1718.3" cy="440.6" r="7.8" fill="#866200" opacity="0.8"/>
<circle cx="1790.7" cy="712.7" r="5.4" fill="#874100" opacity="0.8"/>
<circle cx="2106.9" cy="506.3" r="6.3" fill="#873d00" opacity="0.8"/>
<circle cx="2320.2" cy="196.4" r="8.3" fill="#865600" opacity="0.8"/>
<circle cx="1979.9" cy="440.2" r="7.9" fill="#866600" opacity="0.8"/>
<circle cx="1824.6" cy="535.9" r="6.3" fill="#874b00" opacity="0.8"/>
<circle cx="2162.3" cy="235.2" r="6.7" fill="#865d00" opacity="0.8"/>
<circle cx="1729.4" cy="349.6" r="10.5" fill="#866900" opacity="0.8"/>
<circle cx="1729.9" cy="172.5" r="6.5" fill="#866600" opacity="0.8"/>
<circle cx="2313.4" cy="653.8" r="7.0" fill="#873f00" opacity="0.8"/>
<circle cx="2279.4" cy="526.8" r="8.4" fill="#866900" opacity="0.8"/>
<circle cx="2149.5" cy="24.2" r="9.5" fill="#874600" opacity="0.8"/>
<circle cx="2156.3" cy="696.9" r="5.7" fill="#873d00" opacity="0.8"/>
<circle cx="1754.3" cy="418.2" r="6.5" fill="#865600" opacity="0.8"/>
<circle cx="2195.5" cy="165.6" r="8.5" fill="#874500" opacity="0.8"/>
<circle cx="2030.0" cy="672.6" r="9.7" fill="#873c00" opacity="0.8"/>
<circle cx="1983.0" cy="218.4" r="5.0" fill="#865e00" opacity="0.8"/>
<circle cx="2137.3" cy="207.8" r="9.1" fill="#865300" opacity="0.8"/>
<circle cx="1986.0" cy="25.5" r="5.4" fill="#866400" opacity="0.8"/>
<circle cx="2330.1" cy="412.7" r="9.6" fill="#865500" opacity="0.8"/>
<circle cx="1899.7" cy="668.0" r="9.4" fill="#866300" opacity="0.8"/>
<circle cx="2326.5" cy="170.3" r="6.4" fill="#873d00" opacity="0.8"/>
<circle cx="2240.6" cy="657.3" r="7.2" fill="#865700" opacity="0.8"/>
<circle cx="1788.7" cy="690.3" r="9.8" fill="#866800" opacity="0.8"/>
<circle cx="2262.8" cy="655.3" r="5.1" fill="#865c00" opacity="0.8"/>
<circle cx="1917.0" cy="691.0" r="9.4" fill="#866300" opacity="0.8"/>
<circle cx="2262.8" cy="211.3" r="9.3" fill="#873d00" opacity="0.8"/>
<circle cx="2307.1" cy="638.8" r="6.2" fill="#866000" opacity="0.8"/>
<circle cx="2009.6" cy="239.0" r="9.4" fill="#874300" opacity="0.8"/>
<circle cx="1914.2" cy="643.0" r="10.3" fill="#874500" opacity="0.8"/>
<circle cx="2140.5" cy="307.3" r="10.4" fill="#865200" opacity="0.8"/>
<circle cx="2355.6" cy="101.8" r="10.3" fill="#874000" opacity="0.8"/>
<circle cx="2372.4" cy="210.3" r="5.6" fill="#874d00" opacity="0.8"/>
<circle cx="2203.4" cy="245.1" r="8.3" fill="#865100" opacity="0.8"/>
<circle cx="1955.3" cy="435.1" r="6.4" fill="#865b00" opacity="0.8"/>
<circle cx="1678.2" cy="687.2" r="8.0" fill="#865b00" opacity="0.8"/>
<circle cx="2213.1" cy="503.0" r="7.0" fill="#873b00" opacity="0.8"/>
<circle cx="2156.9" cy="257.1" r="6.7" fill="#866200" opacity="0.8"/>
<circle cx="2197.0" cy="235.5" r="6.7" fill="#874c00" opacity="0.8"/>
<circle cx="1967.7" cy="232.1" r="5.7" fill="#874d00" opacity="0.8"/>
<circle cx="2356.4" cy="507.9" r="10.0" fill="#865600" opacity="0.8"/>
<circle cx="1894.4" cy="414.4" r="5.0" fill="#874600" opacity="0.8"/>
<circle cx="1987.6" cy="437.5" r="8.6" fill="#874f00" opacity="0.8"/>
<circle cx="1996.5" cy="172.9" r="7.6" fill="#866500" opacity="0.8"/>
<circle cx="2252.1" cy="141.1" r="5.5" fill="#865100" opacity="0.8"/>
<circle cx="2134.3" cy="260.7" r="9.5" fill="#865d00" opacity="0.8"/>
<circle cx="2163.1" cy="180.8" r="6.1" fill="#873900" opacity="0.8"/>
<circle cx="1853.9" cy="361.8" r="9.7" fill="#873b00" opacity="0.8"/>
<circle cx="1817.5" cy="521.6" r="7.7" fill="#874400" opacity="0.8"/>
<circle cx="2151.0" cy="22.5" r="9.1" fill="#865e00" opacity="0.8"/>
<circle cx="1754.0" cy="325.7" r="6.0" fill="#866700" opacity="0.8"/>
<circle cx="2051.2" cy="54.8" r="6.4" fill="#866200" opacity="0.8"/>
<circle cx="2006.8" cy="597.5" r="8.7" fill="#866900" opacity="0.8"/>
<circle cx="2107.2" cy="704.9" r="9.9" fill="#865600" opacity="0.8"/>
<circle cx="2196.7" cy="383.2" r="9.6" fill="#865300" opacity="0.8"/>
<circle cx="2325.2" cy="555.8" r="7.6" fill="#874400" opacity="0.8"/>
<circle cx="1855.6" cy="479.2" r="9.2" fill="#865200" opacity="0.8"/>
<circle cx="2129.8" cy="216.9" r="5.4" fill="#874600" opacity="0.8"/>
<circle cx="1873.3" cy="249.5" r="8.0" fill="#873e00" opacity="0.8"/>
<circle cx="1844.1" cy="519.9" r="8.9" fill="#873b00" opacity="0.8"/>
<circle cx="1971.5" cy="410.5" r="7.3" fill="#874200" opacity="0.8"/>
<circle cx="1980.6" cy="672.2" r="8.2" fill="#865a00" opacity="0.8"/>
<circle cx="2296.0" cy="571.6" r="7.1" fill="#873800" opacity="0.8"/>
<circle cx="1931.1" cy="562.9" r="9.7" fill="#866700" opacity="0.8"/>
<circle cx="1979.7" cy="558.6" r="8.0" fill="#865600" opacity="0.8"/>
<circle cx="1836.3" cy="177.0" r="7.4" fill="#873900" opacity="0.8"/>
<circle cx="1919.9" cy="509.2" r="7.2" fill="#874000" opacity="0.8"/>
<circle cx="2014.7" cy="110.7" r="8.4" fill="#873900" opacity="0.8"/>
<circle cx="1961.7" cy="426.3" r="5.1" fill="#865800" opacity="0.8"/>
<circle cx="1775.0" cy="352.1" r="5.3" fill="#874a00" opacity="0.8"/>
<circle cx="1829.9" cy="254.6" r="9.2" fill="#874a00" opacity="0.8"/>
<circle cx="2220.3" cy="619.6" r="6.4" fill="#873c00" opacity="0.8"/>
<circle cx="1691.0" cy="408.2" r="10.5" fill="#874900" opacity="0.8"/>
<circle cx="2146.7" cy="582.9" r="8.6" fill="#865d00" opacity="0.8"/>
<circle cx="2363.1" cy="162.5" r="5.1" fill="#873f00" opacity="0.8"/>
<circle cx="2084.5" cy="176.0" r="8.8" fill="#865e00" opacity="0.8"/>
<circle cx="2217.4" cy="101.2" r="9.5" fill="#866800" opacity="0.8"/>
<circle cx="1902.4" cy="507.9" r="10.3" fill="#874b00" opacity="0.8"/>
<circle cx="2193.6" cy="73.4" r="8.8" fill="#865700" opacity="0.8"/>
<circle cx="1750.6" cy="576.6" r="9.7" fill="#865600" opacity="0.8"/>
<circle cx="1764.5" cy="729.3" r="9.3" fill="#874900" opacity="0.8"/>
<circle cx="1986.5" cy="286.2" r="7.8" fill="#874900" opacity="0.8"/>
<circle cx="2290.8" cy="612.6" r="5.6" fill="#866800" opacity="0.8"/>
<circle cx="2136.2" cy="617.2" r="8.9" fill="#874d00" opacity="0.8"/>
<circle cx="2207.2" cy="716.1" r="6.5" fill="#866000" opacity="0.8"/>
<circle cx="2065.8" cy="367.8" r="7.4" fill="#865c00" opacity="0.8"/>
<circle cx="1870.9" cy="633.9" r="9.6" fill="#873c00" opacity="0.8"/>
<circle cx="2314.0" cy="194.7" r="7.6" fill="#865600" opacity="0.8"/>
<circle cx="1950.8" cy="39.2" r="9.7" fill="#874100" opacity="0.8"/>
<circle cx="1830.3" cy="594.9" r="6.9" fill="#866400" opacity="0.8"/>
<circle cx="2183.6" cy="218.1" r="5.1" fill="#866700" opacity="0.8"/>
<circle cx="1738.9" cy="538.8" r="7.7" fill="#865d00" opacity="0.8"/>
<circle cx="2176.0" cy="485.2" r="7.7" fill="#865f00" opacity="0.8"/>
<circle cx="1744.2" cy="178.6" r="8.8" fill="#874700" opacity="0.8"/>
<circle cx="2097.2" cy="360.4" r="7.9" fill="#874d00" opacity="0.8"/>
<circle cx="2215.9" cy="257.5" r="8.9" fill="#874500" opacity="0.8"/>
<circle cx="1858.6" cy="105.7" r="6.1" fill="#873d00" opacity="0.8"/>
<circle cx="2064.2" cy="569.2" r="6.0" fill="#874200" opacity="0.8"/>
<circle cx="2026.8" cy="542.0" r="10.4" fill="#865200" opacity="0.8"/>
<circle cx="1881.5" cy="91.1" r="6.1" fill="#874300" opacity="0.8"/>
<circle cx="1806.6" cy="28.7" r="7.9" fill="#874500" opacity="0.8"/>
<circle cx="2380.9" cy="418.3" r="8.8" fill="#873e00" opacity="0.8"/>
<circle cx="2304.5" cy="373.2" r="9.8" fill="#865400" opacity="0.8"/>
<circle cx="2016.1" cy="336.7" r="6.0" fill="#873a00" opacity="0.8"/>
<circle cx="2356.9" cy="363.7" r="9.5" fill="#874c00" opacity="0.8"/>
<circle cx="1730.5" cy="473.3" r="5.3" fill="#873f00" opacity="0.8"/>
<circle cx="2083.7" cy="238.0" r="10.5" fill="#873d00" opacity="0.8"/>
<circle cx="2229.3" cy="456.6" r="9.3" fill="#874300" opacity="0.8"/>
<circle cx="2054.6" cy="344.0" r="7.4" fill="#866300" opacity="0.8"/>
<circle cx="2392.3" cy="239.1" r="8.4" fill="#865600" opacity="0.8"/>
<circle cx="2211.7" cy="703.1" r="6.1" fill="#874200" opacity="0.8"/>
<circle cx="2154.2" cy="132.0" r="6.0" fill="#873b00" opacity="0.8"/>
<circle cx="1678.9" cy="344.0" r="8.3" fill="#874600" opacity="0.8"/>
<circle cx="1844.2" cy="529.3" r="8.9" fill="#874e00" opacity="0.8"/>
<circle cx="2173.6" cy="686.0" r="9.3" fill="#865700" opacity="0.8"/>
<circle cx="2154.7" cy="693.1" r="7.3" fill="#865300" opacity="0.8"/>
<circle cx="2144.9" cy="674.8" r="9.5" fill="#873b00" opacity="0.8"/>
<circle cx="1796.9" cy="240.7" r="9.1" fill="#865400" opacity="0.8"/>
<circle cx="1885.5" cy="108.3" r="8.8" fill="#865a00" opacity="0.8"/>
<circle cx="2358.1" cy="380.1" r="7.7" fill="#873c00" opacity="0.8"/>
<circle cx="1705.8" cy="330.6" r="6.8" fill="#874400" opacity="0.8"/>
<circle cx="1743.0" cy="713.5" r="9.6" fill="#865400" opacity="0.8"/>
<circle cx="2363.9" cy="740.7" r="8.7" fill="#874500" opacity="0.8"/>
<circle cx="1706.1" cy="564.9" r="7.6" fill="#865800" opacity="0.8"/>
<circle cx="2338.9" cy="149.6" r="8.2" fill="#865700" opacity="0.8"/>
<circle cx="2032.3" cy="84.4" r="6.9" fill="#874800" opacity="0.8"/>
<circle cx="2161.2" cy="638.2" r="6.8" fill="#865a00" opacity="0.8"/>
<circle cx="1885.2" cy="701.4" r="9.5" fill="#865300" opacity="0.8"/>
<circle cx="2005.6" cy="245.7" r="6.8" fill="#866800" opacity="0.8"/>
<circle cx="1969.0" cy="390.3" r="10.4" fill="#865800" opacity="0.8"/>
<circle cx="2069.0" cy="317.1" r="6.0" fill="#874a00" opacity="0.8"/>
<circle cx="2223.5" cy="470.4" r="9.2" fill="#874200" opacity="0.8"/>
<circle cx="2073.8" cy="688.7" r="7.4" fill="#865a00" opacity="0.8"/>
<circle cx="1764.7" cy="721.6" r="8.3" fill="#874300" opacity="0.8"/>
<circle cx="1791.4" cy="416.5" r="8.0" fill="#873c00" opacity="0.8"/>
<circle cx="2010.4" cy="103.4" r="9.6" fill="#875000" opacity="0.8"/>
<circle cx="2194.7" cy="386.2" r="6.5" fill="#866100" opacity="0.8"/>
<circle cx="2385.2" cy="194.6" r="8.0" fill="#874b00" opacity="0.8"/>
<circle cx="2343.0" cy="385.7" r="9.8" fill="#866300" opacity="0.8"/>
<circle cx="1876.6" cy="589.3" r="7.3" fill="#866600" opacity="0.8"/>
<circle cx="2043.8" cy="611.3" r="6.6" fill="#874600" opacity="0.8"/>
<circle cx="2101.1" cy="740.2" r="7.7" fill="#873f00" opacity="0.8"/>
<circle cx="2066.1" cy="267.9" r="8.0" fill="#865300" opacity="0.8"/>
<circle cx="2006.0" cy="251.0" r="6.0" fill="#865a00" opacity="0.8"/>
<circle cx="2090.1" cy="187.2" r="9.3" fill="#873a00" opacity="0.8"/>
<circle cx="2215.0" cy="528.0" r="9.5" fill="#874b00" opacity="0.8"/>
<circle cx="2156.5" cy="611.5" r="10.4" fill="#875000" opacity="0.8"/>
<circle cx="1703.7" cy="381.4" r="8.2" fill="#866300" opacity="0.8"/>
<circle cx="2308.6" cy="336.6" r="7.9" fill="#874e00" opacity="0.8"/>
<circle cx="2199.0" cy="314.7" r="8.6" fill="#873f00" opacity="0.8"/>
<circle cx="2016.2" cy="718.7" r="6.9" fill="#865a00" opacity="0.8"/>
<circle cx="2146.5" cy="633.9" r="9.7" fill="#866200" opacity="0.8"/>
<circle cx="1951.6" cy="247.3" r="9.0" fill="#865d00" opacity="0.8"/>
<circle cx="2307.3" cy="44.4" r="5.4" fill="#865700" opacity="0.8"/>
<circle cx="2342.4" cy="739.1" r="9.1" fill="#874d00" opacity="0.8"/>
<circle cx="2307.4" cy="339.1" r="8.8" fill="#866500" opacity="0.8"/>
<circle cx="1710.2" cy="593.7" r="6.6" fill="#874a00" opacity="0.8"/>
<circle cx="1782.2" cy="402.3" r="8.1" fill="#865f00" opacity="0.8"/>
<circle cx="2306.2" cy="466.2" r="6.3" fill="#866500" opacity="0.8"/>
<circle cx="1780.4" cy="351.7" r="6.4" fill="#874400" opacity="0.8"/>
<circle cx="1683.8" cy="599.8" r="10.0" fill="#865900" opacity="0.8"/>
<circle cx="1791.1" cy="337.6" r="6.9" fill="#865500" opacity="0.8"/>
<circle cx="2138.6" cy="325.1" r="6.4" fill="#866200" opacity="0.8"/>
<circle cx="1820.9" cy="296.4" r="7.7" fill="#874300" opacity="0.8"/>
<circle cx="2090.2" cy="433.8" r="10.5" fill="#874600" opacity="0.8"/>
<circle cx="1875.3" cy="427.4" r="8.8" fill="#865d00" opacity="0.8"/>
<circle cx="1712.4" cy="456.6" r="7.7" fill="#866500" opacity="0.8"/>
<circle cx="1883.8" cy="595.7" r="8.3" fill="#874900" opacity="0.8"/>
<circle cx="2137.0" cy="467.1" r="8.7" fill="#865c00" opacity="0.8"/>
<circle cx="2153.3" cy="624.2" r="8.5" fill="#866500" opacity="0.8"/>
<circle cx="2144.0" cy="241.7" r="7.4" fill="#865400" opacity="0.8"/>
<circle cx="2206.1" cy="83.6" r="6.6" fill="#865d00" opacity="0.8"/>
<circle cx="2066.7" cy="720.4" r="7.9" fill="#866500" opacity="0.8"/>
<circle cx="2277.0" cy="204.2" r="9.5" fill="#875000" opacity="0.8"/>
<circle cx="2259.7" cy="557.9" r="6.9" fill="#873d00" opacity="0.8"/>
<circle cx="2372.7" cy="120.2" r="10.3" fill="#866300" opacity="0.8"/>
<circle cx="2200.2" cy="726.5" r="10.3" fill="#866000" opacity="0.8"/>
<circle cx="1941.3" cy="589.8" r="5.1" fill="#865200" opacity="0.8"/>
<circle cx="2271.2" cy="697.9" r="5.6" fill="#874300" opacity="0.8"/>
<circle cx="1695.1" cy="657.4" r="8.1" fill="#866500" opacity="0.8"/>
<circle cx="2272.2" cy="675.5" r="6.7" fill="#874c00" opacity="0.8"/>
<circle cx="1778.0" cy="702.2" r="6.7" fill="#875000" opacity="0.8"/>
<circle cx="1747.2" cy="659.5" r="5.7" fill="#874e00" opacity="0.8"/>
<circle cx="2161.4" cy="555.4" r="10.2" fill="#874c00" opacity="0.8"/>
<circle cx="2213.3" cy="130.1" r="7.3" fill="#873c00" opacity="0.8"/>
<circle cx="2030.6" cy="313.4" r="10.2" fill="#873900" opacity="0.8"/>
<circle cx="1944.7" cy="338.8" r="10.2" fill="#866200" opacity="0.8"/>
<circle cx="1748.8" cy="513.9" r="8.0" fill="#866800" opacity="0.8"/>
<circle cx="1936.1" cy="306.2" r="6.0" fill="#873e00" opacity="0.8"/>
<circle cx="2289.7" cy="347.0" r="8.6" fill="#865800" opacity="0.8"/>
<circle cx="2108.4" cy="33.9" r="9.3" fill="#874400" opacity="0.8"/>
<circle cx="1768.0" cy="426.4" r="5.4" fill="#865e00" opacity="0.8"/>
<circle cx="1826.7" cy="174.5" r="9.8" fill="#874800" opacity="0.8"/>
<circle cx="1783.6" cy="669.1" r="5.0" fill="#866200" opacity="0.8"/>
<circle cx="2154.6" cy="37.1" r="5.1" fill="#865f00" opacity="0.8"/>
<circle cx="1848.9" cy="252.4" r="6.0" fill="#873a00" opacity="0.8"/>
<circle cx="2212.9" cy="398.6" r="9.1" fill="#874f00" opacity="0.8"/>
<circle cx="2239.1" cy="389.3" r="5.6" fill="#865100" opacity="0.8"/>
<circle cx="2242.9" cy="644.9" r="7.9" fill="#874e00" opacity="0.8"/>
<circle cx="2023.1" cy="308.7" r="8.8" fill="#875000" opacity="0.8"/>
<circle cx="2334.3" cy="71.6" r="5.4" fill="#865600" opacity="0.8"/>
<circle cx="1724.5" cy="217.2" r="8.5" fill="#865300" opacity="0.8"/>
<circle cx="1911.9" cy="737.1" r="7.9" fill="#874e00" opacity="0.8"/>
<circle cx="2114.4" cy="90.2" r="8.9" fill="#866200" opacity="0.8"/>
<circle cx="2147.3" cy="574.1" r="9.0" fill="#874200" opacity="0.8"/>
<circle cx="2003.2" cy="183.6" r="6.9" fill="#874e00" opacity="0.8"/>
<circle cx="1977.6" cy="87.2" r="7.3" fill="#865900" opacity="0.8"/>
<circle cx="1947.4" cy="128.8" r="10.1" fill="#873b00" opacity="0.8"/>
<circle cx="2278.0" cy="85.9" r="5.5" fill="#865c00" opacity="0.8"/>
<circle cx="2263.5" cy="420.5" r="8.2" fill="#865400" opacity="0.8"/>
<circle cx="1915.2" cy="106.8" r="6.9" fill="#865900" opacity="0.8"/>
<circle cx="2219.1" cy="645.7" r="9.0" fill="#866800" opacity="0.8"/>
<circle cx="2110.8" cy="272.6" r="8.2" fill="#874200" opacity="0.8"/>
<circle cx="2151.5" cy="180.5" r="5.6" fill="#866200" opacity="0.8"/>
<circle cx="1942.6" cy="569.5" r="8.2" fill="#866000" opacity="0.8"/>
<circle cx="2287.6" cy="722.6" r="9.5" fill="#865600" opacity="0.8"/>
<circle cx="2141.4" cy="37.5" r="10.1" fill="#866100" opacity="0.8"/>
<circle cx="2184.7" cy="241.7" r="6.9" fill="#873800" opacity="0.8"/>
<circle cx="2305.5" cy="427.7" r="7.2" fill="#873f00" opacity="0.8"/>
<circle cx="2134.5" cy="40.6" r="9.1" fill="#874200" opacity="0.8"/>
<circle cx="1980.3" cy="264.8" r="7.0" fill="#865c00" opacity="0.8"/>
<circle cx="2238.3" cy="428.6" r="5.5" fill="#873a00" opacity="0.8"/>
<circle cx="2163.9" cy="215.1" r="8.6" fill="#875000" opacity="0.8"/>
<circle cx="1996.4" cy="215.9" r="9.2" fill="#873d00" opacity="0.8"/>
<circle cx="1987.6" cy="223.1" r="8.7" fill="#875000" opacity="0.8"/>
<circle cx="2159.0" cy="51.3" r="7.2" fill="#865500" opacity="0.8"/>
<circle cx="1682.6" cy="236.3" r="6.2" fill="#873e00" opacity="0.8"/>
<circle cx="1861.6" cy="255.6" r="5.0" fill="#865d00" opacity="0.8"/>
<circle cx="1803.9" cy="293.2" r="8.9" fill="#865100" opacity="0.8"/>
<circle cx="2279.1" cy="601.0" r="5.4" fill="#866300" opacity="0.8"/>
<circle cx="1707.6" cy="32.0" r="10.1" fill="#866300" opacity="0.8"/>
<circle cx="2093.0" cy="432.8" r="8.9" fill="#874c00" opacity="0.8"/>
<circle cx="1911.6" cy="597.5" r="8.4" fill="#866100" opacity="0.8"/>
<circle cx="2341.5" cy="82.2" r="9.6" fill="#874400" opacity="0.8"/>
<circle cx="2102.5" cy="397.1" r="7.2" fill="#874700" opacity="0.8"/>
<circle cx="1922.3" cy="259.1" r="5.9" fill="#865100" opacity="0.8"/>
<circle cx="1759.4" cy="386.9" r="10.0" fill="#874900" opacity="0.8"/>
<circle cx="2202.5" cy="610.2" r="9.5" fill="#874300" opacity="0.8"/>
<circle cx="1782.8" cy="161.0" r="8.3" fill="#865e00" opacity="0.8"/>
<circle cx="2150.6" cy="146.5" r="9.3" fill="#875000" opacity="0.8"/>
<circle cx="2222.1" cy="567.5" r="7.5" fill="#866600" opacity="0.8"/>
<circle cx="2128.2" cy="642.9" r="8.4" fill="#873f00" opacity="0.8"/>
<circle cx="1726.3" cy="338.0" r="6.7" fill="#874500" opacity="0.8"/>
<circle cx="1717.6" cy="385.1" r="6.7" fill="#874e00" opacity="0.8"/>
<circle cx="1718.1" cy="619.4" r="5.4" fill="#866300" opacity="0.8"/>
<circle cx="2294.9" cy="462.8" r="7.8" fill="#874f00" opacity="0.8"/>
<circle cx="2077.5" cy="590.6" r="9.9" fill="#874e00" opacity="0.8"/>
<circle cx="2262.1" cy="489.5" r="6.8" fill="#874f00" opacity="0.8"/>
<circle cx="1751.8" cy="668.1" r="6.9" fill="#865b00" opacity="0.8"/>
<circle cx="2041.5" cy="143.2" r="6.4" fill="#874d00" opacity="0.8"/>
<circle cx="1994.5" cy="396.2" r="5.9" fill="#874a00" opacity="0.8"/>
<circle cx="1881.4" cy="313.8" r="6.9" fill="#865500" opacity="0.8"/>
<circle cx="2247.2" cy="486.2" r="5.4" fill="#873c00" opacity="0.8"/>
<circle cx="2167.1" cy="223.8" r="9.0" fill="#865800" opacity="0.8"/>
<circle cx="2331.8" cy="649.4" r="6.8" fill="#865500" opacity="0.8"/>
<circle cx="1779.2" cy="271.2" r="10.3" fill="#865a00" opacity="0.8"/>
<circle cx="1960.2" cy="448.4" r="10.2" fill="#874700" opacity="0.8"/>
<circle cx="1949.2" cy="590.5" r="9.5" fill="#865900" opacity="0.8"/>
<circle cx="2275.9" cy="552.3" r="8.8" fill="#865200" opacity="0.8"/>
<circle cx="2143.8" cy="324.4" r="7.0" fill="#874a00" opacity="0.8"/>
<circle cx="1807.2" cy="173.3" r="10.2" fill="#875000" opacity="0.8"/>
<circle cx="1732.8" cy="628.6" r="5.6" fill="#865e00" opacity="0.8"/>
<circle cx="2280.4" cy="657.0" r="5.2" fill="#874800" opacity="0.8"/>
<circle cx="2230.7" cy="113.2" r="7.1" fill="#874000" opacity="0.8"/>
<circle cx="2277.6" cy="575.6" r="9.4" fill="#874000" opacity="0.8"/>
<circle cx="1993.2" cy="315.3" r="8.7" fill="#874300" opacity="0.8"/>
<circle cx="1997.9" cy="224.4" r="9.1" fill="#874e00" opacity="0.8"/>
<circle cx="2062.8" cy="242.1" r="9.4" fill="#874f00" opacity="0.8"/>
<circle cx="2280.4" cy="284.3" r="10.2" fill="#866900" opacity="0.8"/>
<circle cx="2010.6" cy="222.1" r="7.1" fill="#865200" opacity="0.8"/>
<circle cx="2375.1" cy="608.7" r="9.4" fill="#873e00" opacity="0.8"/>
<circle cx="1857.6" cy="481.8" r="9.8" fill="#865300" opacity="0.8"/>
<circle cx="1751.1" cy="629.7" r="9.7" fill="#874600" opacity="0.8"/>
<circle cx="2228.4" cy="215.6" r="10.0" fill="#873f00" opacity="0.8"/>
<circle cx="1993.1" cy="702.3" r="6.2" fill="#874e00" opacity="0.8"/>
<circle cx="1929.6" cy="37.8" r="5.3" fill="#865100" opacity="0.8"/>
<circle cx="1847.3" cy="737.0" r="7.1" fill="#873900" opacity="0.8"/>
<circle cx="2349.5" cy="624.8" r="8.6" fill="#865f00" opacity="0.8"/>
<circle cx="1776.4" cy="225.8" r="9.6" fill="#865a00" opacity="0.8"/>
<circle cx="1777.3" cy="528.2" r="7.5" fill="#873800" opacity="0.8"/>
<circle cx="1734.2" cy="203.4" r="9.6" fill="#865300" opacity="0.8"/>
<circle cx="2202.4" cy="399.8" r="5.6" fill="#874600" opacity="0.8"/>
<circle cx="1894.6" cy="53.0" r="7.3" fill="#865f00" opacity="0.8"/>
<circle cx="2007.3" cy="98.6" r="10.0" fill="#865500" opacity="0.8"/>
<circle cx="1688.9" cy="390.9" r="6.3" fill="#873f00" opacity="0.8"/>
<circle cx="1850.8" cy="319.5" r="8.7" fill="#873c00" opacity="0.8"/>
<circle cx="2057.1" cy="385.0" r="10.4" fill="#865300" opacity="0.8"/>
<circle cx="1959.1" cy="358.2" r="8.5" fill="#866900" opacity="0.8"/>
<circle cx="1860.3" cy="30.2" r="9.3" fill="#874900" opacity="0.8"/>
<circle cx="2206.5" cy="472.4" r="9.2" fill="#865c00" opacity="0.8"/>
<circle cx="1917.2" cy="50.5" r="8.0" fill="#866000" opacity="0.8"/>
<circle cx="1803.5" cy="581.4" r="7.6" fill="#865a00" opacity="0.8"/>
<circle cx="2133.4" cy="604.8" r="5.3" fill="#865e00" opacity="0.8"/>
<circle cx="2007.7" cy="230.5" r="5.2" fill="#874100" opacity="0.8"/>
<circle cx="1707.3" cy="692.9" r="7.8" fill="#866900" opacity="0.8"/>
<circle cx="2069.3" cy="201.5" r="9.1" fill="#874100" opacity="0.8"/>
<circle cx="1934.9" cy="582.7" r="9.8" fill="#874800" opacity="0.8"/>
<circle cx="1766.9" cy="284.4" r="9.9" fill="#865d00" opacity="0.8"/>
<circle cx="2323.4" cy="297.9" r="10.4" fill="#875000" opacity="0.8"/>
<circle cx="2036.5" cy="686.3" r="7.9" fill="#866000" opacity="0.8"/>
<circle cx="2202.3" cy="75.5" r="8.3" fill="#866100" opacity="0.8"/>
<circle cx="2071.1" cy="250.6" r="5.4" fill="#865900" opacity="0.8"/>
<circle cx="1898.4" cy="453.9" r="7.3" fill="#865a00" opacity="0.8"/>
<circle cx="1931.0" cy="49.1" r="9.8" fill="#874900" opacity="0.8"/>
<circle cx="2398.2" cy="216.9" r="10.4" fill="#866700" opacity="0.8"/>
<circle cx="1731.2" cy="479.1" r="7.0" fill="#866000" opacity="0.8"/>
<circle cx="2167.9" cy="706.9" r="5.8" fill="#865600" opacity="0.8"/>
<circle cx="2241.5" cy="43.6" r="5.4" fill="#865e00" opacity="0.8"/>
<circle cx="1941.7" cy="295.1" r="8.1" fill="#865600" opacity="0.8"/>
<circle cx="2167.6" cy="704.0" r="7.0" fill="#865e00" opacity="0.8"/>
<circle cx="2091.7" cy="401.0" r="7.2" fill="#865800" opacity="0.8"/>
<circle cx="1857.3" cy="100.5" r="9.0" fill="#875000" opacity="0.8"/>
<circle cx="1956.6" cy="424.3" r="6.4" fill="#874500" opacity="0.8"/>
<circle cx="1999.4" cy="738.4" r="6.6" fill="#866500" opacity="0.8"/>
<circle cx="2031.9" cy="107.1" r="9.7" fill="#874e00" opacity="0.8"/>
<circle cx="2326.3" cy="340.1" r="5.5" fill="#865a00" opacity="0.8"/>
<circle cx="2287.9" cy="249.4" r="6.9" fill="#873b00" opacity="0.8"/>
<circle cx="2068.7" cy="662.5" r="9.7" fill="#865b00" opacity="0.8"/>
<circle cx="2347.0" cy="479.2" r="9.4" fill="#865100" opacity="0.8"/>
<circle cx="1764.7" cy="163.7" r="5.8" fill="#865f00" opacity="0.8"/>
<circle cx="1696.0" cy="418.8" r="7.0" fill="#866000" opacity="0.8"/>
<circle cx="1739.3" cy="242.0" r="10.5" fill="#865b00" opacity="0.8"/>
<circle cx="2056.8" cy="574.2" r="9.5" fill="#873b00" opacity="0.8"/>
<circle cx="1925.9" cy="652.8" r="9.3" fill="#865700" opacity="0.8"/>
<circle cx="1808.5" cy="716.6" r="7.4" fill="#866500" opacity="0.8"/>
<circle cx="1910.1" cy="531.0" r="6.9" fill="#866700" opacity="0.8"/>
<circle cx="2323.6" cy="629.7" r="6.4" fill="#865700" opacity="0.8"/>
<circle cx="2075.0" cy="108.9" r="6.7" fill="#865200" opacity="0.8"/>
<circle cx="2040.1" cy="140.3" r="10.2" fill="#873f00" opacity="0.8"/>
<circle cx="2152.9" cy="539.2" r="8.3" fill="#866200" opacity="0.8"/>
<circle cx="2084.2" cy="614.7" r="5.2" fill="#873a00" opacity="0.8"/>
<circle cx="2140.5" cy="435.2" r="8.6" fill="#865e00" opacity="0.8"/>
<circle cx="1886.3" cy="709.7" r="7.7" fill="#866000" opacity="0.8"/>
<circle cx="2171.9" cy="233.4" r="5.4" fill="#873a00" opacity="0.8"/>
<circle cx="1994.6" cy="368.4" r="6.1" fill="#865600" opacity="0.8"/>
<circle cx="1902.8" cy="537.5" r="9.0" fill="#866300" opacity="0.8"/>
<circle cx="2381.7" cy="113.0" r="7.0" fill="#865400" opacity="0.8"/>
<circle cx="1907.6" cy="355.5" r="6.5" fill="#874400" opacity="0.8"/>
<circle cx="1746.9" cy="228.2" r="7.1" fill="#865600" opacity="0.8"/>
<circle cx="1856.4" cy="643.7" r="5.9" fill="#874800" opacity="0.8"/>
<circle cx="2094.4" cy="244.4" r="9.2" fill="#875000" opacity="0.8"/>
<circle cx="2048.9" cy="378.9" r="6.7" fill="#873900" opacity="0.8"/>
<circle cx="2359.9" cy="383.7" r="10.3" fill="#874200" opacity="0.8"/>
<circle cx="1932.0" cy="55.0" r="7.7" fill="#866400" opacity="0.8"/>
<circle cx="2149.7" cy="358.5" r="8.0" fill="#866200" opacity="0.8"/>
<circle cx="1988.3" cy="656.1" r="9.0" fill="#865e00" opacity="0.8"/>
<circle cx="1941.4" cy="307.9" r="8.1" fill="#874100" opacity="0.8"/>
<circle cx="2076.7" cy="71.6" r="7.8" fill="#865e00" opacity="0.8"/>
<circle cx="1879.1" cy="733.1" r="8.7" fill="#873d00" opacity="0.8"/>
<circle cx="2381.5" cy="303.1" r="9.4" fill="#874800" opacity="0.8"/>
<circle cx="2355.4" cy="564.0" r="6.1" fill="#865100" opacity="0.8"/>
<circle cx="2038.3" cy="51.2" r="5.8" fill="#874800" opacity="0.8"/>
<circle cx="2019.3" cy="348.7" r="8.3" fill="#865100" opacity="0.8"/>
<circle cx="1914.0" cy="461.4" r="5.9" fill="#866900" opacity="0.8"/>
<circle cx="2211.2" cy="234.7" r="6.9" fill="#866100" opacity="0.8"/>
<circle cx="2061.6" cy="530.6" r="6.6" fill="#866000" opacity="0.8"/>
<circle cx="1943.1" cy="505.3" r="10.4" fill="#865500" opacity="0.8"/>
<circle cx="2252.7" cy="542.5" r="8.8" fill="#873900" opacity="0.8"/>
<circle cx="2019.9" cy="717.2" r="9.3" fill="#865e00" opacity="0.8"/>
<circle cx="2094.3" cy="539.7" r="8.2" fill="#874000" opacity="0.8"/>
<circle cx="2131.5" cy="466.3" r="9.6" fill="#873f00" opacity="0.8"/>
<circle cx="2168.8" cy="41.3" r="10.2" fill="#873d00" opacity="0.8"/>
<circle cx="1690.7" cy="245.1" r="5.8" fill="#865a00" opacity="0.8"/>
<circle cx="1973.5" cy="578.4" r="10.1" fill="#866300" opacity="0.8"/>
<circle cx="2208.6" cy="63.5" r="5.8" fill="#874200" opacity="0.8"/>
<circle cx="1911.8" cy="497.0" r="7.9" fill="#874700" opacity="0.8"/>
<circle cx="1802.1" cy="677.5" r="6.9" fill="#874900" opacity="0.8"/>
<circle cx="2234.8" cy="539.4" r="8.5" fill="#865a00" opacity="0.8"/>
<circle cx="1855.1" cy="421.7" r="6.2" fill="#866800" opacity="0.8"/>
<circle cx="1892.0" cy="227.3" r="6.1" fill="#865b00" opacity="0.8"/>
<circle cx="1906.1" cy="270.5" r="10.1" fill="#865f00" opacity="0.8"/>
<circle cx="1874.6" cy="106.6" r="8.7" fill="#874a00" opacity="0.8"/>
<circle cx="2366.7" cy="599.8" r="6.6" fill="#874600" opacity="0.8"/>
<circle cx="2193.0" cy="268.7" r="7.4" fill="#874400" opacity="0.8"/>
<circle cx="2023.1" cy="164.5" r="8.0" fill="#866600" opacity="0.8"/>
<circle cx="2180.0" cy="117.7" r="8.4" fill="#865500" opacity="0.8"/>
<circle cx="1852.2" cy="502.5" r="7.9" fill="#865700" opacity="0.8"/>
<circle cx="1714.9" cy="317.1" r="8.9" fill="#873d00" opacity="0.8"/>
<circle cx="2233.9" cy="22.2" r="8.0" fill="#866600" opacity="0.8"/>
<circle cx="1971.0" cy="694.1" r="9.8" fill="#874f00" opacity="0.8"/>
<circle cx="1821.1" cy="714.9" r="6.8" fill="#865800" opacity="0.8"/>
<circle cx="2333.0" cy="83.1" r="8.2" fill="#865200" opacity="0.8"/>
<circle cx="2199.5" cy="695.2" r="10.0" fill="#874000" opacity="0.8"/>
<circle cx="2314.4" cy="145.5" r="10.1" fill="#866900" opacity="0.8"/>
<circle cx="1963.8" cy="376.4" r="10.2" fill="#866800" opacity="0.8"/>
<circle cx="2346.1" cy="651.9" r="5.1" fill="#865400" opacity="0.8"/>
<circle cx="1754.5" cy="728.7" r="6.6" fill="#866900" opacity="0.8"/>
<circle cx="2069.5" cy="375.4" r="10.2" fill="#866200" opacity="0.8"/>
<circle cx="2015.1" cy="157.8" r="5.6" fill="#874000" opacity="0.8"/>
<circle cx="2008.6" cy="204.4" r="6.0" fill="#865c00" opacity="0.8"/>
<circle cx="2248.3" cy="428.7" r="9.2" fill="#874000" opacity="0.8"/>
<circle cx="2295.6" cy="666.6" r="9.5" fill="#865100" opacity="0.8"/>
<circle cx="1739.7" cy="502.0" r="6.0" fill="#873f00" opacity="0.8"/>
<circle cx="1910.8" cy="197.7" r="6.4" fill="#874300" opacity="0.8"/>
<circle cx="2221.6" cy="707.8" r="6.7" fill="#865c00" opacity="0.8"/>
<circle cx="1685.3" cy="490.8" r="8.8" fill="#873b00" opacity="0.8"/>
<circle cx="1762.4" cy="240.2" r="7.2" fill="#865100" opacity="0.8"/>
<circle cx="2323.7" cy="526.8" r="6.7" fill="#873d00" opacity="0.8"/>
<circle cx="2338.9" cy="231.7" r="8.4" fill="#874200" opacity="0.8"/>
<circle cx="2217.2" cy="456.1" r="7.3" fill="#865300" opacity="0.8"/>
<circle cx="2017.2" cy="406.9" r="8.7" fill="#874200" opacity="0.8"/>
<circle cx="1855.8" cy="563.8" r="9.8" fill="#873c00" opacity="0.8"/>
<circle cx="1733.4" cy="426.1" r="5.3" fill="#865300" opacity="0.8"/>
<circle cx="2042.2" cy="432.3" r="5.8" fill="#874800" opacity="0.8"/>
<circle cx="2052.9" cy="102.5" r="6.1" fill="#865500" opacity="0.8"/>
<circle cx="1742.7" cy="387.2" r="9.4" fill="#874e00" opacity="0.8"/>
<circle cx="2047.8" cy="348.5" r="5.3" fill="#874f00" opacity="0.8"/>
<circle cx="2260.0" cy="541.1" r="7.2" fill="#866000" opacity="0.8"/>
<circle cx="1709.7" cy="267.4" r="5.4" fill="#866900" opacity="0.8"/>
<circle cx="1972.4" cy="574.1" r="9.2" fill="#866800" opacity="0.8"/>
<circle cx="2143.6" cy="322.2" r="10.5" fill="#874b00" opacity="0.8"/>
<circle cx="2305.3" cy="673.6" r="7.1" fill="#865a00" opacity="0.8"/>
<circle cx="2155.1" cy="408.1" r="8.6" fill="#874900" opacity="0.8"/>
<circle cx="1805.9" cy="406.7" r="7.9" fill="#865c00" opacity="0.8"/>
<circle cx="1837.9" cy="21.0" r="5.1" fill="#874600" opacity="0.8"/>
<circle cx="2163.6" cy="411.9" r="7.9" fill="#866100" opacity="0.8"/>
<circle cx="1855.8" cy="268.6" r="6.5" fill="#866600" opacity="0.8"/>
<circle cx="2200.8" cy="100.0" r="9.5" fill="#874c00" opacity="0.8"/>
<circle cx="2230.5" cy="657.0" r="5.1" fill="#874200" opacity="0.8"/>
<circle cx="2108.9" cy="526.6" r="5.3" fill="#865d00" opacity="0.8"/>
<circle cx="1967.6" cy="187.8" r="6.2" fill="#866300" opacity="0.8"/>
<circle cx="1717.8" cy="382.6" r="6.6" fill="#866000" opacity="0.8"/>
<circle cx="2205.5" cy="248.9" r="8.3" fill="#865900" opacity="0.8"/>
<circle cx="1908.7" cy="236.5" r="5.8" fill="#865900" opacity="0.8"/>
<circle cx="1836.7" cy="235.6" r="5.3" fill="#866700" opacity="0.8"/>
<circle cx="2312.6" cy="677.1" r="8.4" fill="#874d00" opacity="0.8"/>
<circle cx="2035.1" cy="721.0" r="10.2" fill="#865900" opacity="0.8"/>
<circle cx="2244.7" cy="248.8" r="7.3" fill="#873f00" opacity="0.8"/>
<circle cx="1949.0" cy="563.6" r="7.6" fill="#866200" opacity="0.8"/>
<circle cx="1894.3" cy="529.7" r="9.4" fill="#866500" opacity="0.8"/>
<circle cx="2083.3" cy="717.7" r="8.1" fill="#873e00" opacity="0.8"/>
<circle cx="1852.5" cy="165.4" r="8.6" fill="#866600" opacity="0.8"/>
<circle cx="2289.1" cy="85.3" r="9.0" fill="#874100" opacity="0.8"/>
<circle cx="1871.0" cy="505.2" r="8.3" fill="#866300" opacity="0.8"/>
<circle cx="1812.9" cy="568.8" r="9.0" fill="#865300" opacity="0.8"/>
<circle cx="2023.4" cy="646.7" r="6.8" fill="#866700" opacity="0.8"/>
<circle cx="1688.1" cy="695.6" r="10.3" fill="#873d00" opacity="0.8"/>
<circle cx="2399.2" cy="364.5" r="6.3" fill="#865600" opacity="0.8"/>
<circle cx="1824.8" cy="679.7" r="8.0" fill="#865e00" opacity="0.8"/>
<circle cx="1952.0" cy="404.1" r="7.0" fill="#874500" opacity="0.8"/>
<circle cx="2047.5" cy="377.8" r="5.5" fill="#866900" opacity="0.8"/>
<circle cx="2016.2" cy="625.2" r="10.0" fill="#874a00" opacity="0.8"/>
<circle cx="1976.1" cy="424.9" r="6.2" fill="#873f00" opacity="0.8"/>
<circle cx="1865.4" cy="693.9" r="8.2" fill="#874c00" opacity="0.8"/>
<circle cx="1787.1" cy="256.8" r="7.1" fill="#866100" opacity="0.8"/>
<circle cx="2037.7" cy="491.5" r="8.8" fill="#874400" opacity="0.8"/>
<circle cx="2270.6" cy="716.8" r="8.5" fill="#875000" opacity="0.8"/>
<circle cx="1798.5" cy="592.9" r="5.9" fill="#865c00" opacity="0.8"/>
<circle cx="2029.8" cy="681.0" r="8.0" fill="#865800" opacity="0.8"/>
<circle cx="1719.4" cy="42.9" r="9.7" fill="#866700" opacity="0.8"/>
<circle cx="2159.8" cy="570.7" r="7.3" fill="#866200" opacity="0.8"/>
<circle cx="1844.2" cy="529.4" r="5.1" fill="#865100" opacity="0.8"/>
<circle cx="1946.6" cy="464.9" r="8.7" fill="#865600" opacity="0.8"/>
<circle cx="2026.1" cy="371.0" r="5.0" fill="#865300" opacity="0.8"/>
<circle cx="1685.6" cy="401.0" r="6.5" fill="#866800" opacity="0.8"/>
<circle cx="1689.4" cy="606.0" r="8.7" fill="#866000" opacity="0.8"/>
<circle cx="2334.3" cy="95.8" r="5.5" fill="#873f00" opacity="0.8"/>
<circle cx="1815.7" cy="398.9" r="9.5" fill="#874500" opacity="0.8"/>
<circle cx="1963.8" cy="288.0" r="7.2" fill="#865400" opacity="0.8"/>
<circle cx="2392.4" cy="181.7" r="8.8" fill="#866200" opacity="0.8"/>
<circle cx="2149.3" cy="638.6" r="9.2" fill="#873c00" opacity="0.8"/>
<circle cx="1951.0" cy="417.8" r="5.3" fill="#873800" opacity="0.8"/>
<circle cx="1800.8" cy="379.6" r="7.4" fill="#865f00" opacity="0.8"/>
<circle cx="2085.8" cy="638.4" r="5.5" fill="#865200" opacity="0.8"/>
<circle cx="2304.2" cy="659.8" r="7.6" fill="#873a00" opacity="0.8"/>
<circle cx="1730.7" cy="687.2" r="9.9" fill="#865400" opacity="0.8"/>
<circle cx="1700.8" cy="689.5" r="6.7" fill="#866800" opacity="0.8"/>
<circle cx="2101.1" cy="562.0" r="8.9" fill="#874b00" opacity="0.8"/>
<circle cx="1850.7" cy="621.5" r="7.1" fill="#866400" opacity="0.8"/>
<circle cx="1916.7" cy="564.4" r="5.8" fill="#866900" opacity="0.8"/>
<circle cx="2200.2" cy="380.3" r="10.4" fill="#873a00" opacity="0.8"/>
<circle cx="1992.8" cy="624.4" r="6.9" fill="#865e00" opacity="0.8"/>
<circle cx="2366.9" cy="305.1" r="9.3" fill="#873900" opacity="0.8"/>
<circle cx="1874.5" cy="735.6" r="7.7" fill="#874900" opacity="0.8"/>
<circle cx="2357.0" cy="330.5" r="8.7" fill="#865900" opacity="0.8"/>
<circle cx="1738.9" cy="465.4" r="9.4" fill="#865b00" opacity="0.8"/>
<circle cx="2191.2" cy="476.5" r="9.1" fill="#874700" opacity="0.8"/>
<circle cx="1754.0" cy="22.3" r="6.7" fill="#874900" opacity="0.8"/>
<circle cx="1871.9" cy="114.2" r="6.0" fill="#874e00" opacity="0.8"/>
<circle cx="2077.8" cy="313.3" r="5.1" fill="#874900" opacity="0.8"/>
<circle cx="1744.2" cy="450.6" r="6.8" fill="#874b00" opacity="0.8"/>
<circle cx="1887.9" cy="298.7" r="5.5" fill="#866500" opacity="0.8"/>
<circle cx="2331.0" cy="725.2" r="8.1" fill="#874000" opacity="0.8"/>
<circle cx="1952.1" cy="118.8" r="6.7" fill="#875000" opacity="0.8"/>
<circle cx="1722.7" cy="332.6" r="7.3" fill="#875000" opacity="0.8"/>
<circle cx="1732.6" cy="200.4" r="6.4" fill="#865700" opacity="0.8"/>
<circle cx="1754.3" cy="238.6" r="10.2" fill="#874800" opacity="0.8"/>
<circle cx="2125.1" cy="599.4" r="6.8" fill="#874800" opacity="0.8"/>
<circle cx="2266.2" cy="639.5" r="10.4" fill="#873e00" opacity="0.8"/>
<circle cx="1908.7" cy="702.9" r="6.1" fill="#874700" opacity="0.8"/>
<circle cx="2373.9" cy="718.4" r="6.6" fill="#865a00" opacity="0.8"/>
<circle cx="2031.8" cy="434.6" r="6.3" fill="#874a00" opacity="0.8"/>
<circle cx="2266.9" cy="302.4" r="5.6" fill="#865400" opacity="0.8"/>
<circle cx="2104.9" cy="412.7" r="8.7" fill="#865300" opacity="0.8"/>
<circle cx="2365.5" cy="352.0" r="8.9" fill="#874d00" opacity="0.8"/>
<circle cx="1887.5" cy="519.1" r="9.5" fill="#865f00" opacity="0.8"/>
<circle cx="1972.6" cy="379.2" r="8.5" fill="#874400" opacity="0.8"/>
<circle cx="2152.9" cy="535.3" r="9.3" fill="#873b00" opacity="0.8"/>
<circle cx="2392.8" cy="364.7" r="7.2" fill="#865100" opacity="0.8"/>
<circle cx="2342.0" cy="518.3" r="8.0" fill="#865f00" opacity="0.8"/>
<circle cx="1936.8" cy="665.5" r="8.0" fill="#865700" opacity="0.8"/>
<circle cx="1738.4" cy="574.1" r="8.6" fill="#874900" opacity="0.8"/>
<circle cx="2144.5" cy="50.5" r="10.4" fill="#865900" opacity="0.8"/>
<circle cx="1965.7" cy="562.3" r="10.3" fill="#874d00" opacity="0.8"/>
<circle cx="1684.6" cy="205.4" r="7.8" fill="#865100" opacity="0.8"/>
<circle cx="2096.4" cy="434.1" r="7.5" fill="#874b00" opacity="0.8"/>
<circle cx="2235.0" cy="443.8" r="7.8" fill="#874900" opacity="0.8"/>
<circle cx="1977.5" cy="713.3" r="5.6" fill="#866700" opacity="0.8"/>
<circle cx="1779.4" cy="243.8" r="7.5" fill="#874200" opacity="0.8"/>
<circle cx="2025.9" cy="362.5" r="7.4" fill="#865a00" opacity="0.8"/>
<circle cx="1907.4" cy="235.4" r="9.5" fill="#873d00" opacity="0.8"/>
<circle cx="2290.5" cy="486.7" r="8.7" fill="#874000" opacity="0.8"/>
<circle cx="2387.9" cy="194.7" r="6.0" fill="#874000" opacity="0.8"/>
<circle cx="2081.5" cy="711.0" r="6.3" fill="#874c00" opacity="0.8"/>
<circle cx="1989.2" cy="39.6" r="8.4" fill="#874100" opacity="0.8"/>
<circle cx="2104.9" cy="299.4" r="8.9" fill="#874200" opacity="0.8"/>
<circle cx="2220.6" cy="602.8" r="5.3" fill="#873d00" opacity="0.8"/>
<circle cx="2307.0" cy="153.6" r="6.8" fill="#874e00" opacity="0.8"/>
<circle cx="1866.6" cy="641.8" r="7.9" fill="#865700" opacity="0.8"/>
<circle cx="2108.3" cy="460.2" r="8.2" fill="#874900" opacity="0.8"/>
<circle cx="2287.9" cy="464.5" r="9.5" fill="#865b00" opacity="0.8"/>
<circle cx="1891.9" cy="462.5" r="5.5" fill="#873e00" opacity="0.8"/>
<circle cx="1762.2" cy="239.1" r="6.0" fill="#865a00" opacity="0.8"/>
<circle cx="2046.1" cy="320.7" r="5.8" fill="#874b00" opacity="0.8"/>
<circle cx="2178.0" cy="484.7" r="10.5" fill="#865300" opacity="0.8"/>
<circle cx="2030.8" cy="119.9" r="6.7" fill="#874e00" opacity="0.8"/>
<circle cx="1715.7" cy="277.9" r="5.1" fill="#873e00" opacity="0.8"/>
<circle cx="2266.0" cy="714.9" r="7.8" fill="#875000" opacity="0.8"/>
<circle cx="2171.7" cy="318.8" r="9.6" fill="#875000" opacity="0.8"/>
<circle cx="2226.9" cy="229.5" r="6.5" fill="#865200" opacity="0.8"/>
<circle cx="1798.5" cy="348.9" r="9.1" fill="#865e00" opacity="0.8"/>
<circle cx="2074.2" cy="100.3" r="5.6" fill="#865e00" opacity="0.8"/>
<circle cx="2271.8" cy="283.6" r="9.5" fill="#873a00" opacity="0.8"/>
<circle cx="2392.1" cy="92.5" r="9.6" fill="#865d00" opacity="0.8"/>
<circle cx="1892.1" cy="740.5" r="7.5" fill="#874900" opacity="0.8"/>
<circle cx="2267.1" cy="335.7" r="10.5" fill="#865e00" opacity="0.8"/>
<circle cx="1848.2" cy="604.2" r="8.2" fill="#874900" opacity="0.8"/>
<circle cx="2190.5" cy="475.7" r="5.9" fill="#873e00" opacity="0.8"/>
<circle cx="1826.3" cy="168.0" r="5.3" fill="#874900" opacity="0.8"/>
<circle cx="1880.1" cy="407.8" r="6.8" fill="#865b00" opacity="0.8"/>
<circle cx="1886.0" cy="211.7" r="9.7" fill="#866900" opacity="0.8"/>
<circle cx="2167.8" cy="87.3" r="10.3" fill="#865f00" opacity="0.8"/>
<circle cx="2340.8" cy="735.6" r="9.8" fill="#873e00" opacity="0.8"/>
<circle cx="2302.7" cy="198.9" r="8.9" fill="#866100" opacity="0.8"/>
<circle cx="2227.2" cy="507.1" r="7.7" fill="#865400" opacity="0.8"/>
<circle cx="1871.1" cy="317.8" r="7.5" fill="#865700" opacity="0.8"/>
<circle cx="2312.9" cy="85.8" r="7.8" fill="#874500" opacity="0.8"/>
<circle cx="2353.5" cy="285.2" r="10.2" fill="#874800" opacity="0.8"/>
<circle cx="1678.8" cy="577.8" r="9.0" fill="#865c00" opacity="0.8"/>
<circle cx="1935.8" cy="64.3" r="7.9" fill="#874200" opacity="0.8"/>
<circle cx="1987.4" cy="171.6" r="6.5" fill="#866100" opacity="0.8"/>
<circle cx="1921.0" cy="436.1" r="8.1" fill="#875000" opacity="0.8"/>
<circle cx="1925.4" cy="511.6" r="5.3" fill="#873c00" opacity="0.8"/>
<circle cx="2243.4" cy="350.5" r="5.7" fill="#866200" opacity="0.8"/>
<circle cx="1995.8" cy="19.0" r="10.3" fill="#874200" opacity="0.8"/>
<circle cx="2174.5" cy="113.8" r="8.6" fill="#873f00" opacity="0.8"/>
<circle cx="2350.9" cy="216.5" r="8.6" fill="#874400" opacity="0.8"/>
<circle cx="1945.7" cy="671.5" r="5.9" fill="#874b00" opacity="0.8"/>
<circle cx="1897.7" cy="523.8" r="6.3" fill="#865800" opacity="0.8"/>
<circle cx="2185.4" cy="19.3" r="7.6" fill="#873e00" opacity="0.8"/>
<circle cx="1840.4" cy="509.8" r="5.1" fill="#865a00" opacity="0.8"/>
<circle cx="2267.4" cy="732.4" r="7.3" fill="#873e00" opacity="0.8"/>
<circle cx="1728.2" cy="295.3" r="9.0" fill="#873d00" opacity="0.8"/>
<circle cx="1903.4" cy="655.0" r="5.8" fill="#865e00" opacity="0.8"/>
<circle cx="2221.2" cy="114.7" r="10.5" fill="#873f00" opacity="0.8"/>
<circle cx="2060.3" cy="24.6" r="8.6" fill="#874e00" opacity="0.8"/>
<circle cx="2199.0" cy="472.3" r="5.8" fill="#874c00" opacity="0.8"/>
<circle cx="2173.0" cy="639.8" r="5.5" fill="#873d00" opacity="0.8"/>
<circle cx="1954.5" cy="714.4" r="6.7" fill="#873e00" opacity="0.8"/>
<circle cx="1877.1" cy="79.4" r="8.0" fill="#865600" opacity="0.8"/>
<circle cx="2116.0" cy="581.3" r="8.8" fill="#866200" opacity="0.8"/>
<circle cx="2152.7" cy="236.4" r="7.8" fill="#865100" opacity="0.8"/>
<circle cx="2217.3" cy="232.0" r="5.3" fill="#866400" opacity="0.8"/>
<circle cx="2366.8" cy="376.1" r="5.6" fill="#875000" opacity="0.8"/>
<circle cx="2106.1" cy="400.2" r="10.4" fill="#866900" opacity="0.8"/>
<circle cx="2351.8" cy="113.9" r="9.7" fill="#865400" opacity="0.8"/>
<circle cx="1941.0" cy="511.9" r="9.2" fill="#866700" opacity="0.8"/>
<circle cx="2233.6" cy="30.6" r="5.4" fill="#874500" opacity="0.8"/>
<circle cx="2247.3" cy="384.5" r="8.5" fill="#865100" opacity="0.8"/>
<circle cx="1736.6" cy="406.2" r="8.4" fill="#874500" opacity="0.8"/>
<circle cx="1900.9" cy="387.9" r="6.1" fill="#866000" opacity="0.8"/>
<circle cx="2064.5" cy="300.8" r="8.5" fill="#866100" opacity="0.8"/>
<circle cx="2169.1" cy="66.3" r="8.8" fill="#865c00" opacity="0.8"/>
<circle cx="2288.6" cy="60.3" r="5.5" fill="#874d00" opacity="0.8"/>
<circle cx="2004.6" cy="458.4" r="6.7" fill="#865d00" opacity="0.8"/>
<circle cx="2212.1" cy="104.8" r="8.9" fill="#865b00" opacity="0.8"/>
<circle cx="1795.4" cy="707.1" r="7.9" fill="#865f00" opacity="0.8"/>
<circle cx="2197.8" cy="139.1" r="5.7" fill="#865f00" opacity="0.8"/>
<circle cx="1871.2" cy="658.9" r="9.2" fill="#873900" opacity="0.8"/>
<circle cx="2260.1" cy="215.0" r="5.4" fill="#865b00" opacity="0.8"/>
<circle cx="2093.6" cy="74.2" r="7.5" fill="#874a00" opacity="0.8"/>
<circle cx="2038.0" cy="428.1" r="7.0" fill="#874400" opacity="0.8"/>
<circle cx="1751.3" cy="433.2" r="9.0" fill="#874300" opacity="0.8"/>
<circle cx="2044.6" cy="50.3" r="9.7" fill="#874400" opacity="0.8"/>
<circle cx="2017.8" cy="295.2" r="5.8" fill="#866600" opacity="0.8"/>
<circle cx="2296.5" cy="417.9" r="10.0" fill="#865d00" opacity="0.8"/>
<circle cx="1980.0" cy="251.0" r="7.3" fill="#865c00" opacity="0.8"/>
<circle cx="1873.0" cy="74.8" r="7.1" fill="#865100" opacity="0.8"/>
<circle cx="2328.7" cy="148.1" r="9.4" fill="#866900" opacity="0.8"/>
<circle cx="2013.0" cy="222.5" r="9.6" fill="#874800" opacity="0.8"/>
<circle cx="2076.6" cy="24.3" r="6.1" fill="#865400" opacity="0.8"/>
<circle cx="1896.6" cy="468.4" r="7.6" fill="#865500" opacity="0.8"/>
<circle cx="2033.5" cy="576.7" r="6.1" fill="#866500" opacity="0.8"/>
<circle cx="2226.4" cy="195.6" r="5.0" fill="#874c00" opacity="0.8"/>
<circle cx="1845.3" cy="268.8" r="9.6" fill="#866300" opacity="0.8"/>
<circle cx="2151.9" cy="631.9" r="9.0" fill="#873d00" opacity="0.8"/>
<circle cx="2059.8" cy="190.6" r="7.7" fill="#873a00" opacity="0.8"/>
<circle cx="1744.2" cy="684.1" r="9.9" fill="#865100" opacity="0.8"/>
<circle cx="2183.4" cy="287.6" r="10.4" fill="#873c00" opacity="0.8"/>
<circle cx="2269.4" cy="72.6" r="8.1" fill="#874d00" opacity="0.8"/>
<circle cx="2373.6" cy="189.6" r="6.4" fill="#874700" opacity="0.8"/>
<circle cx="2255.6" cy="524.8" r="9.0" fill="#874700" opacity="0.8"/>
<circle cx="1873.5" cy="72.5" r="6.1" fill="#865e00" opacity="0.8"/>
<circle cx="1795.8" cy="355.2" r="7.2" fill="#865200" opacity="0.8"/>
<circle cx="2373.9" cy="168.5" r="6.7" fill="#874500" opacity="0.8"/>
<circle cx="2172.7" cy="615.6" r="8.8" fill="#873a00" opacity="0.8"/>
<circle cx="2281.0" cy="255.3" r="5.5" fill="#874400" opacity="0.8"/>
<circle cx="1934.0" cy="389.5" r="8.7" fill="#874500" opacity="0.8"/>
<circle cx="1969.2" cy="345.2" r="9.1" fill="#874400" opacity="0.8"/>
<circle cx="2010.8" cy="599.3" r="5.8" fill="#873800" opacity="0.8"/>
<circle cx="2276.9" cy="728.4" r="5.7" fill="#866100" opacity="0.8"/>
<circle cx="1945.9" cy="473.9" r="8.5" fill="#865500" opacity="0.8"/>
<circle cx="1864.0" cy="605.7" r="5.1" fill="#873b00" opacity="0.8"/>
<circle cx="2329.1" cy="338.9" r="5.7" fill="#866500" opacity="0.8"/>
<circle cx="2276.2" cy="258.0" r="5.2" fill="#874f00" opacity="0.8"/>
<circle cx="1798.4" cy="433.1" r="9.5" fill="#874b00" opacity="0.8"/>
<circle cx="1698.3" cy="512.1" r="6.0" fill="#874200" opacity="0.8"/>
<circle cx="1812.2" cy="220.7" r="9.9" fill="#873900" opacity="0.8"/>
<circle cx="2124.4" cy="196.1" r="6.6" fill="#874c00" opacity="0.8"/>
<circle cx="2074.9" cy="62.6" r="6.5" fill="#873e00" opacity="0.8"/>
<circle cx="1821.1" cy="657.7" r="7.9" fill="#865700" opacity="0.8"/>
<circle cx="2256.6" cy="592.8" r="10.4" fill="#865f00" opacity="0.8"/>
<circle cx="1936.5" cy="411.9" r="7.7" fill="#866500" opacity="0.8"/>
<circle cx="2040.0" cy="299.1" r="6.0" fill="#874700" opacity="0.8"/>
<circle cx="1835.2" cy="665.7" r="9.3" fill="#873a00" opacity="0.8"/>
<circle cx="2231.0" cy="740.7" r="10.4" fill="#873d00" opacity="0.8"/>
<circle cx="2151.6" cy="211.1" r="9.5" fill="#866500" opacity="0.8"/>
<circle cx="1717.4" cy="738.4" r="6.2" fill="#866200" opacity="0.8"/>
<circle cx="2253.1" cy="274.8" r="9.6" fill="#866200" opacity="0.8"/>
<circle cx="1804.2" cy="446.6" r="9.4" fill="#865a00" opacity="0.8"/>
<circle cx="2183.2" cy="703.1" r="8.1" fill="#865400" opacity="0.8"/>
<circle cx="1813.0" cy="732.3" r="9.8" fill="#875000" opacity="0.8"/>
<circle cx="1900.3" cy="372.8" r="5.5" fill="#874300" opacity="0.8"/>
<circle cx="1835.1" cy="398.9" r="5.0" fill="#866500" opacity="0.8"/>
<circle cx="2195.0" cy="682.3" r="9.6" fill="#874800" opacity="0.8"/>
<circle cx="1692.8" cy="442.3" r="10.0" fill="#865e00" opacity="0.8"/>
<circle cx="2288.6" cy="640.3" r="10.3" fill="#874a00" opacity="0.8"/>
<circle cx="2357.5" cy="304.3" r="5.6" fill="#874700" opacity="0.8"/>
<circle cx="2362.4" cy="590.6" r="10.3" fill="#865800" opacity="0.8"/>
<circle cx="1802.9" cy="718.4" r="8.8" fill="#866600" opacity="0.8"/>
<circle cx="2245.6" cy="179.8" r="8.2" fill="#874000" opacity="0.8"/>
<circle cx="1898.7" cy="515.9" r="5.7" fill="#865c00" opacity="0.8"/>
<circle cx="2362.5" cy="703.9" r="7.2" fill="#866900" opacity="0.8"/>
<circle cx="2112.2" cy="684.0" r="10.3" fill="#874300" opacity="0.8"/>
<circle cx="2085.6" cy="695.3" r="5.8" fill="#865d00" opacity="0.8"/>
<circle cx="1849.0" cy="728.3" r="5.9" fill="#866400" opacity="0.8"/>
<circle cx="1741.1" cy="530.7" r="8.5" fill="#866400" opacity="0.8"/>
<circle cx="1999.7" cy="210.1" r="6.4" fill="#873b00" opacity="0.8"/>
<circle cx="1862.4" cy="96.6" r="5.0" fill="#874b00" opacity="0.8"/>
<circle cx="2206.3" cy="718.7" r="9.9" fill="#875000" opacity="0.8"/>
<circle cx="1950.6" cy="413.0" r="5.6" fill="#874f00" opacity="0.8"/>
<circle cx="2301.3" cy="488.8" r="8.8" fill="#874000" opacity="0.8"/>
<circle cx="1730.3" cy="629.6" r="6.6" fill="#874700" opacity="0.8"/>
<circle cx="1799.9" cy="289.8" r="9.0" fill="#865300" opacity="0.8"/>
<circle cx="2325.9" cy="85.8" r="8.3" fill="#865600" opacity="0.8"/>
<circle cx="2025.8" cy="40.9" r="10.2" fill="#874000" opacity="0.8"/>
<circle cx="2319.8" cy="132.0" r="5.6" fill="#874200" opacity="0.8"/>
<circle cx="1814.3" cy="522.2" r="9.0" fill="#865c00" opacity="0.8"/>
<circle cx="1868.7" cy="221.9" r="6.3" fill="#873a00" opacity="0.8"/>
<circle cx="2090.1" cy="625.3" r="5.8" fill="#874a00" opacity="0.8"/>
<circle cx="1985.9" cy="231.3" r="8.6" fill="#865600" opacity="0.8"/>
<circle cx="1821.3" cy="37.1" r="5.9" fill="#874600" opacity="0.8"/>
<circle cx="1736.2" cy="628.1" r="6.7" fill="#874b00" opacity="0.8"/>
<circle cx="1742.8" cy="411.6" r="6.0" fill="#866400" opacity="0.8"/>
<circle cx="1943.9" cy="340.6" r="6.4" fill="#874f00" opacity="0.8"/>
<circle cx="1840.5" cy="212.5" r="5.3" fill="#865d00" opacity="0.8"/>
<circle cx="2159.2" cy="80.4" r="6.9" fill="#865300" opacity="0.8"/>
<circle cx="2378.3" cy="444.6" r="8.0" fill="#866200" opacity="0.8"/>
<circle cx="2268.3" cy="321.0" r="7.9" fill="#866300" opacity="0.8"/>
<circle cx="2020.1" cy="655.5" r="7.6" fill="#873b00" opacity="0.8"/>
<circle cx="2329.3" cy="534.6" r="7.8" fill="#866500" opacity="0.8"/>
<circle cx="2255.3" cy="508.0" r="8.4" fill="#873e00" opacity="0.8"/>
<circle cx="2224.1" cy="143.4" r="10.4" fill="#866800" opacity="0.8"/>
<circle cx="2261.1" cy="109.7" r="7.3" fill="#866900" opacity="0.8"/>
<circle cx="1991.6" cy="739.0" r="8.4" fill="#866100" opacity="0.8"/>
<circle cx="1863.3" cy="676.6" r="10.0" fill="#873b00" opacity="0.8"/>
<circle cx="1957.4" cy="305.6" r="6.8" fill="#874500" opacity="0.8"/>
<circle cx="2008.0" cy="649.6" r="9.3" fill="#865700" opacity="0.8"/>
<circle cx="2054.6" cy="321.7" r="7.3" fill="#873f00" opacity="0.8"/>
<circle cx="2101.8" cy="566.4" r="10.2" fill="#866600" opacity="0.8"/>
<circle cx="2083.5" cy="91.5" r="6.6" fill="#865200" opacity="0.8"/>
<circle cx="1925.4" cy="315.4" r="7.1" fill="#875000" opacity="0.8"/>
<circle cx="2117.0" cy="45.6" r="6.5" fill="#873f00" opacity="0.8"/>
<circle cx="2116.8" cy="519.7" r="5.2" fill="#866400" opacity="0.8"/>
<circle cx="1916.5" cy="190.2" r="9.1" fill="#866600" opacity="0.8"/>
<circle cx="2325.1" cy="33.1" r="9.5" fill="#874700" opacity="0.8"/>
<circle cx="1879.6" cy="373.7" r="8.8" fill="#873c00" opacity="0.8"/>
<circle cx="2304.8" cy="115.6" r="10.4" fill="#874e00" opacity="0.8"/>
<circle cx="2273.7" cy="213.2" r="7.3" fill="#865800" opacity="0.8"/>
<circle cx="1812.8" cy="171.2" r="9.5" fill="#865d00" opacity="0.8"/>
<circle cx="2225.7" cy="645.0" r="9.5" fill="#865100" opacity="0.8"/>
<circle cx="1791.9" cy="243.3" r="7.8" fill="#873e00" opacity="0.8"/>
<circle cx="2292.1" cy="653.8" r="5.2" fill="#874100" opacity="0.8"/>
<circle cx="2278.8" cy="623.2" r="6.4" fill="#874e00" opacity="0.8"/>
<circle cx="2340.3" cy="527.6" r="6.5" fill="#866100" opacity="0.8"/>
<circle cx="1946.1" cy="447.7" r="6.0" fill="#866300" opacity="0.8"/>
<circle cx="2101.0" cy="271.2" r="5.9" fill="#866400" opacity="0.8"/>
<circle cx="2218.1" cy="516.2" r="6.6" fill="#874b00" opacity="0.8"/>
<circle cx="1794.7" cy="432.0" r="10.3" fill="#866200" opacity="0.8"/>
<circle cx="2144.7" cy="508.1" r="6.5" fill="#874c00" opacity="0.8"/>
<circle cx="1691.5" cy="582.3" r="9.2" fill="#873800" opacity="0.8"/>
<circle cx="2335.6" cy="486.2" r="8.3" fill="#873800" opacity="0.8"/>
<circle cx="1859.4" cy="600.2" r="6.7" fill="#866800" opacity="0.8"/>
<circle cx="2141.4" cy="324.7" r="7.1" fill="#874900" opacity="0.8"/>
<circle cx="1859.1" cy="355.7" r="8.7" fill="#866100" opacity="0.8"/>
<circle cx="1963.9" cy="92.4" r="7.8" fill="#865900" opacity="0.8"/>
<circle cx="2286.3" cy="288.9" r="8.6" fill="#865600" opacity="0.8"/>
<circle cx="1892.6" cy="96.6" r="5.4" fill="#866900" opacity="0.8"/>
<circle cx="2139.8" cy="640.9" r="6.4" fill="#865b00" opacity="0.8"/>
<circle cx="2321.7" cy="234.4" r="5.8" fill="#865e00" opacity="0.8"/>
<circle cx="2327.0" cy="600.4" r="9.4" fill="#865600" opacity="0.8"/>
<circle cx="2154.2" cy="510.3" r="9.0" fill="#865800" opacity="0.8"/>
<circle cx="2397.7" cy="205.9" r="7.3" fill="#874b00" opacity="0.8"/>
<circle cx="1702.5" cy="530.1" r="8.1" fill="#874100" opacity="0.8"/>
<circle cx="2201.9" cy="179.2" r="7.9" fill="#865f00" opacity="0.8"/>
<circle cx="2332.0" cy="503.9" r="7.8" fill="#866200" opacity="0.8"/>
<circle cx="2284.4" cy="651.8" r="6.0" fill="#873c00" opacity="0.8"/>
<circle cx="1769.4" cy="205.4" r="9.4" fill="#865e00" opacity="0.8"/>
<circle cx="1919.5" cy="83.0" r="7.0" fill="#865d00" opacity="0.8"/>
<circle cx="1898.9" cy="587.9" r="6.8" fill="#874500" opacity="0.8"/>
<circle cx="1889.5" cy="633.5" r="7.6" fill="#866300" opacity="0.8"/>
<circle cx="2098.6" cy="700.8" r="5.4" fill="#866400" opacity="0.8"/>
<circle cx="2038.6" cy="645.3" r="7.1" fill="#874600" opacity="0.8"/>
<circle cx="1716.1" cy="635.7" r="5.8" fill="#874200" opacity="0.8"/>
<circle cx="1972.6" cy="429.9" r="10.0" fill="#874e00" opacity="0.8"/>
<circle cx="1905.6" cy="535.6" r="9.3" fill="#875000" opacity="0.8"/>
<circle cx="2135.4" cy="21.9" r="6.5" fill="#865e00" opacity="0.8"/>
<circle cx="1798.8" cy="570.8" r="7.7" fill="#865e00" opacity="0.8"/>
<circle cx="1740.6" cy="462.5" r="8.5" fill="#874c00" opacity="0.8"/>
<circle cx="2374.4" cy="295.4" r="5.2" fill="#874100" opacity="0.8"/>
<circle cx="1946.6" cy="28.7" r="6.8" fill="#866100" opacity="0.8"/>
<circle cx="2129.8" cy="198.3" r="8.8" fill="#874900" opacity="0.8"/>
<circle cx="1770.2" cy="295.6" r="8.2" fill="#874000" opacity="0.8"/>
<circle cx="2272.2" cy="234.0" r="6.6" fill="#865c00" opacity="0.8"/>
<circle cx="2107.9" cy="262.6" r="9.9" fill="#866900" opacity="0.8"/>
<circle cx="1924.6" cy="669.7" r="7.0" fill="#874100" opacity="0.8"/>
<circle cx="2362.0" cy="681.9" r="7.2" fill="#874300" opacity="0.8"/>
<circle cx="2202.4" cy="113.3" r="9.0" fill="#865500" opacity="0.8"/>
<circle cx="1799.1" cy="283.4" r="8.6" fill="#873900" opacity="0.8"/>
<circle cx="2310.3" cy="203.3" r="7.9" fill="#873a00" opacity="0.8"/>
<circle cx="2149.2" cy="32.8" r="8.8" fill="#874c00" opacity="0.8"/>
<circle cx="1951.7" cy="413.9" r="7.6" fill="#873f00" opacity="0.8"/>
<circle cx="2179.3" cy="473.9" r="6.7" fill="#865900" opacity="0.8"/>
<circle cx="2155.6" cy="213.6" r="8.3" fill="#873e00" opacity="0.8"/>
<circle cx="2277.1" cy="94.3" r="9.0" fill="#873d00" opacity="0.8"/>
<circle cx="1820.5" cy="162.8" r="6.4" fill="#865200" opacity="0.8"/>
<circle cx="1822.7" cy="526.7" r="6.6" fill="#873900" opacity="0.8"/>
<circle cx="2035.6" cy="168.6" r="10.1" fill="#874800" opacity="0.8"/>
<circle cx="1679.0" cy="503.8" r="10.0" fill="#866100" opacity="0.8"/>
<circle cx="2160.4" cy="126.3" r="5.5" fill="#865100" opacity="0.8"/>
<circle cx="2199.8" cy="91.7" r="6.4" fill="#874300" opacity="0.8"/>
<circle cx="2391.3" cy="232.4" r="7.6" fill="#873c00" opacity="0.8"/>
<circle cx="1886.9" cy="597.7" r="6.7" fill="#865c00" opacity="0.8"/>
<circle cx="1745.6" cy="566.3" r="5.3" fill="#866200" opacity="0.8"/>
<circle cx="2156.3" cy="141.7" r="7.0" fill="#874d00" opacity="0.8"/>
<circle cx="2126.3" cy="653.2" r="5.5" fill="#866000" opacity="0.8"/>
<circle cx="1809.1" cy="308.1" r="10.3" fill="#874500" opacity="0.8"/>
<circle cx="1955.7" cy="633.1" r="9.4" fill="#865800" opacity="0.8"/>
<circle cx="2252.8" cy="100.2" r="8.8" fill="#873a00" opacity="0.8"/>
<circle cx="2357.9" cy="133.7" r="7.3" fill="#865500" opacity="0.8"/>
<circle cx="2256.6" cy="508.6" r="6.0" fill="#874a00" opacity="0.8"/>
<circle cx="1936.1" cy="39.3" r="8.8" fill="#866100" opacity="0.8"/>
<circle cx="2380.3" cy="112.9" r="10.1" fill="#873d00" opacity="0.8"/>
<circle cx="1974.2" cy="51.7" r="6.4" fill="#874700" opacity="0.8"/>
<circle cx="2186.1" cy="508.3" r="9.2" fill="#865400" opacity="0.8"/>
<circle cx="2085.2" cy="725.0" r="8.7" fill="#874800" opacity="0.8"/>
<circle cx="2054.9" cy="524.7" r="5.5" fill="#865900" opacity="0.8"/>
<circle cx="1856.6" cy="268.3" r="8.7" fill="#874b00" opacity="0.8"/>
<circle cx="2283.2" cy="421.9" r="10.4" fill="#873a00" opacity="0.8"/>
<circle cx="2141.9" cy="131.9" r="9.7" fill="#866200" opacity="0.8"/>
<circle cx="2305.2" cy="72.6" r="7.7" fill="#874400" opacity="0.8"/>
<circle cx="1837.9" cy="483.3" r="7.2" fill="#874300" opacity="0.8"/>
<circle cx="2008.7" cy="597.4" r="7.5" fill="#866200" opacity="0.8"/>
<circle cx="2000.0" cy="104.3" r="7.7" fill="#865800" opacity="0.8"/>
<circle cx="1751.2" cy="316.4" r="8.1" fill="#873800" opacity="0.8"/>
<circle cx="1742.7" cy="455.0" r="8.4" fill="#874700" opacity="0.8"/>
<circle cx="2044.3" cy="168.0" r="8.7" fill="#866700" opacity="0.8"/>
<circle cx="1939.5" cy="57.7" r="6.2" fill="#874e00" opacity="0.8"/>
<circle cx="2194.2" cy="100.9" r="9.2" fill="#874300" opacity="0.8"/>
<circle cx="1923.6" cy="618.1" r="10.3" fill="#874600" opacity="0.8"/>
<circle cx="2054.1" cy="525.8" r="5.3" fill="#874000" opacity="0.8"/>
<circle cx="1778.5" cy="536.4" r="9.0" fill="#873d00" opacity="0.8"/>
<circle cx="2349.1" cy="302.4" r="7.5" fill="#865f00" opacity="0.8"/>
<circle cx="2194.9" cy="96.4" r="7.3" fill="#866600" opacity="0.8"/>
<circle cx="2282.1" cy="443.9" r="9.2" fill="#874e00" opacity="0.8"/>
<circle cx="2152.7" cy="709.3" r="5.7" fill="#875000" opacity="0.8"/>
<circle cx="2060.2" cy="53.6" r="10.1" fill="#866100" opacity="0.8"/>
<circle cx="2025.9" cy="385.8" r="10.1" fill="#874000" opacity="0.8"/>
<circle cx="2095.0" cy="546.3" r="5.7" fill="#874b00" opacity="0.8"/>
<circle cx="2110.9" cy="656.2" r="7.8" fill="#874b00" opacity="0.8"/>
<circle cx="2227.8" cy="216.2" r="10.3" fill="#866800" opacity="0.8"/>
<circle cx="2004.2" cy="114.9" r="7.3" fill="#865b00" opacity="0.8"/>
<circle cx="2217.7" cy="234.5" r="8.9" fill="#866300" opacity="0.8"/>
<circle cx="2191.3" cy="694.4" r="8.5" fill="#874200" opacity="0.8"/>
<circle cx="2128.0" cy="228.4" r="6.9" fill="#865900" opacity="0.8"/>
<circle cx="2369.4" cy="382.6" r="8.8" fill="#874800" opacity="0.8"/>
<circle cx="1760.4" cy="273.0" r="7.6" fill="#865400" opacity="0.8"/>
<circle cx="2159.0" cy="320.1" r="9.1" fill="#866200" opacity="0.8"/>
<circle cx="1883.6" cy="630.7" r="9.4" fill="#865200" opacity="0.8"/>
<circle cx="2161.3" cy="162.9" r="9.1" fill="#874000" opacity="0.8"/>
<circle cx="1884.1" cy="199.5" r="9.6" fill="#865a00" opacity="0.8"/>
<circle cx="1890.2" cy="563.0" r="5.2" fill="#866000" opacity="0.8"/>
<circle cx="1751.0" cy="645.7" r="9.1" fill="#866300" opacity="0.8"/>
<circle cx="1848.7" cy="585.2" r="9.4" fill="#874600" opacity="0.8"/>
<circle cx="2157.1" cy="687.9" r="7.1" fill="#866700" opacity="0.8"/>
<circle cx="2382.0" cy="244.4" r="8.0" fill="#873800" opacity="0.8"/>
<circle cx="1858.6" cy="466.9" r="9.3" fill="#866300" opacity="0.8"/>
<circle cx="2276.7" cy="677.0" r="8.9" fill="#865800" opacity="0.8"/>
<circle cx="2222.6" cy="413.4" r="8.3" fill="#865e00" opacity="0.8"/>
<circle cx="2373.7" cy="231.0" r="6.0" fill="#865a00" opacity="0.8"/>
<circle cx="2048.3" cy="291.0" r="7.4" fill="#865300" opacity="0.8"/>
<circle cx="1771.0" cy="440.4" r="6.4" fill="#874800" opacity="0.8"/>
<circle cx="2189.8" cy="130.3" r="5.8" fill="#874800" opacity="0.8"/>
<circle cx="1713.7" cy="692.1" r="8.4" fill="#865900" opacity="0.8"/>
<circle cx="2031.4" cy="432.3" r="7.0" fill="#865f00" opacity="0.8"/>
<circle cx="1906.7" cy="177.4" r="6.0" fill="#873b00" opacity="0.8"/>
<circle cx="2042.0" cy="319.0" r="8.0" fill="#873c00" opacity="0.8"/>
<circle cx="1836.8" cy="172.6" r="6.8" fill="#874a00" opacity="0.8"/>
<circle cx="1834.8" cy="562.3" r="7.9" fill="#866900" opacity="0.8"/>
<circle cx="2272.1" cy="727.4" r="5.0" fill="#865900" opacity="0.8"/>
<circle cx="1999.0" cy="672.0" r="8.4" fill="#865700" opacity="0.8"/>
<circle cx="2369.8" cy="511.6" r="6.8" fill="#866500" opacity="0.8"/>
<circle cx="2359.8" cy="297.3" r="8.0" fill="#874600" opacity="0.8"/>
<circle cx="2335.4" cy="612.5" r="7.1" fill="#866000" opacity="0.8"/>
<circle cx="1998.9" cy="50.2" r="9.9" fill="#874100" opacity="0.8"/>
<circle cx="2048.3" cy="703.6" r="5.9" fill="#866700" opacity="0.8"/>
<circle cx="2065.7" cy="23.8" r="5.4" fill="#865900" opacity="0.8"/>
<circle cx="2235.9" cy="643.4" r="7.3" fill="#873d00" opacity="0.8"/>
<circle cx="2065.5" cy="526.2" r="10.4" fill="#865e00" opacity="0.8"/>
<circle cx="2144.1" cy="697.5" r="9.1" fill="#873f00" opacity="0.8"/>
<circle cx="2008.8" cy="258.2" r="5.5" fill="#873a00" opacity="0.8"/>
<circle cx="2250.8" cy="421.7" r="8.2" fill="#874300" opacity="0.8"/>
<circle cx="1863.9" cy="298.9" r="8.5" fill="#874d00" opacity="0.8"/>
<circle cx="1689.2" cy="505.0" r="7.9" fill="#865800" opacity="0.8"/>
<circle cx="2123.8" cy="564.7" r="8.2" fill="#865b00" opacity="0.8"/>
<circle cx="1729.4" cy="689.0" r="5.6" fill="#865f00" opacity="0.8"/>
<circle cx="1894.7" cy="81.0" r="9.2" fill="#874d00" opacity="0.8"/>
<circle cx="2019.5" cy="403.9" r="5.8" fill="#874b00" opacity="0.8"/>
<circle cx="2253.2" cy="412.8" r="10.3" fill="#873f00" opacity="0.8"/>
<circle cx="2166.3" cy="679.0" r="9.4" fill="#865c00" opacity="0.8"/>
<circle cx="1946.6" cy="704.5" r="8.0" fill="#865300" opacity="0.8"/>
<circle cx="1766.0" cy="22.1" r="8.3" fill="#865200" opacity="0.8"/>
<circle cx="2361.2" cy="238.6" r="9.1" fill="#866500" opacity="0.8"/>
<circle cx="1925.4" cy="316.6" r="8.6" fill="#865100" opacity="0.8"/>
<circle cx="1793.3" cy="178.0" r="9.6" fill="#874100" opacity="0.8"/>
<circle cx="1808.0" cy="596.3" r="9.7" fill="#866200" opacity="0.8"/>
<circle cx="2350.6" cy="736.9" r="7.5" fill="#865300" opacity="0.8"/>
<circle cx="1887.0" cy="67.2" r="5.5" fill="#865c00" opacity="0.8"/>
<circle cx="2029.0" cy="257.5" r="5.7" fill="#865800" opacity="0.8"/>
<circle cx="2327.3" cy="248.1" r="7.5" fill="#865600" opacity="0.8"/>
<circle cx="1897.9" cy="440.6" r="8.1" fill="#874a00" opacity="0.8"/>
<circle cx="1905.6" cy="328.0" r="5.0" fill="#874400" opacity="0.8"/>
<circle cx="1837.1" cy="553.0" r="7.4" fill="#866200" opacity="0.8"/>
<circle cx="1774.0" cy="548.1" r="9.8" fill="#874f00" opacity="0.8"/>
<circle cx="1936.2" cy="239.2" r="8.0" fill="#874000" opacity="0.8"/>
<circle cx="2115.3" cy="626.7" r="9.7" fill="#873f00" opacity="0.8"/>
<circle cx="2066.2" cy="208.7" r="9.9" fill="#873b00" opacity="0.8"/>
<circle cx="1731.5" cy="32.0" r="7.8" fill="#873900" opacity="0.8"/>
<circle cx="2097.4" cy="311.2" r="8.2" fill="#866500" opacity="0.8"/>
<circle cx="2075.5" cy="411.2" r="10.5" fill="#874f00" opacity="0.8"/>
<circle cx="2237.1" cy="282.8" r="6.2" fill="#865e00" opacity="0.8"/>
<circle cx="2206.8" cy="228.7" r="7.6" fill="#865100" opacity="0.8"/>
<circle cx="1963.7" cy="381.3" r="8.6" fill="#866200" opacity="0.8"/>
<circle cx="2259.7" cy="462.1" r="5.9" fill="#865100" opacity="0.8"/>
<circle cx="1999.4" cy="147.9" r="10.2" fill="#865800" opacity="0.8"/>
<circle cx="2026.3" cy="277.7" r="6.2" fill="#875000" opacity="0.8"/>
<circle cx="1722.4" cy="285.4" r="5.2" fill="#874200" opacity="0.8"/>
<circle cx="2332.8" cy="279.5" r="7.6" fill="#874e00" opacity="0.8"/>
<circle cx="1710.6" cy="727.0" r="6.8" fill="#865b00" opacity="0.8"/>
<circle cx="2053.7" cy="617.9" r="9.6" fill="#874500" opacity="0.8"/>
<circle cx="2149.3" cy="282.4" r="8.6" fill="#866100" opacity="0.8"/>
<circle cx="2050.3" cy="290.4" r="10.0" fill="#865100" opacity="0.8"/>
<circle cx="1932.0" cy="645.4" r="7.7" fill="#875000" opacity="0.8"/>
<circle cx="2113.5" cy="381.1" r="5.8" fill="#874000" opacity="0.8"/>
<circle cx="1732.7" cy="483.4" r="6.2" fill="#874100" opacity="0.8"/>
<circle cx="1938.7" cy="536.8" r="5.7" fill="#874300" opacity="0.8"/>
<circle cx="2263.1" cy="538.9" r="7.6" fill="#874f00" opacity="0.8"/>
<circle cx="2279.1" cy="34.7" r="5.2" fill="#865400" opacity="0.8"/>
<circle cx="1705.3" cy="432.0" r="5.3" fill="#874400" opacity="0.8"/>
<circle cx="1807.1" cy="710.8" r="8.3" fill="#865400" opacity="0.8"/>
<circle cx="1690.5" cy="538.4" r="8.6" fill="#874600" opacity="0.8"/>
<circle cx="1739.0" cy="343.0" r="10.5" fill="#866300" opacity="0.8"/>
<circle cx="1800.2" cy="618.4" r="8.3" fill="#865f00" opacity="0.8"/>
<circle cx="2269.8" cy="149.9" r="8.6" fill="#874500" opacity="0.8"/>
<circle cx="2200.2" cy="266.1" r="7.5" fill="#865500" opacity="0.8"/>
<circle cx="1843.0" cy="297.0" r="5.6" fill="#874200" opacity="0.8"/>
<circle cx="2298.1" cy="382.9" r="7.3" fill="#873f00" opacity="0.8"/>
<circle cx="1746.6" cy="362.3" r="8.4" fill="#873900" opacity="0.8"/>
</g>
<g filter="url(#bl4)">
<ellipse cx="2010" cy="51" rx="23.0" ry="19.0" fill="#93b600" opacity="0.45"/>
<ellipse cx="2010" cy="51" rx="17.0" ry="13.6" fill="#93b600" opacity="0.85"/>
<ellipse cx="1926" cy="39" rx="15.0" ry="13.0" fill="#90a800" opacity="0.45"/>
<ellipse cx="1926" cy="39" rx="10.2" ry="8.5" fill="#90a800" opacity="0.85"/>
<ellipse cx="1886" cy="48" rx="13.0" ry="12.0" fill="#8d9a00" opacity="0.45"/>
<ellipse cx="1886" cy="48" rx="8.5" ry="7.6" fill="#8d9a00" opacity="0.85"/>
<ellipse cx="1772" cy="62" rx="15.0" ry="15.0" fill="#898c00" opacity="0.45"/>
<ellipse cx="1772" cy="62" rx="10.2" ry="10.2" fill="#898c00" opacity="0.85"/>
<ellipse cx="1790" cy="28" rx="15.0" ry="12.0" fill="#8d9a00" opacity="0.45"/>
<ellipse cx="1790" cy="28" rx="10.2" ry="7.6" fill="#8d9a00" opacity="0.85"/>
<ellipse cx="1915" cy="80" rx="17.0" ry="16.0" fill="#92b100" opacity="0.45"/>
<ellipse cx="1915" cy="80" rx="11.9" ry="11.0" fill="#92b100" opacity="0.85"/>
<ellipse cx="1945" cy="95" rx="17.0" ry="15.0" fill="#91ad00" opacity="0.45"/>
<ellipse cx="1945" cy="95" rx="11.9" ry="10.2" fill="#91ad00" opacity="0.85"/>
<ellipse cx="1918" cy="118" rx="16.0" ry="15.0" fill="#91ad00" opacity="0.45"/>
<ellipse cx="1918" cy="118" rx="11.0" ry="10.2" fill="#91ad00" opacity="0.85"/>
<ellipse cx="1962" cy="108" rx="16.0" ry="14.0" fill="#8fa300" opacity="0.45"/>
<ellipse cx="1962" cy="108" rx="11.0" ry="9.3" fill="#8fa300" opacity="0.85"/>
<ellipse cx="1920" cy="140" rx="14.0" ry="13.0" fill="#8fa300" opacity="0.45"/>
<ellipse cx="1920" cy="140" rx="9.3" ry="8.5" fill="#8fa300" opacity="0.85"/>
<ellipse cx="1975" cy="80" rx="13.0" ry="12.0" fill="#8c9500" opacity="0.45"/>
<ellipse cx="1975" cy="80" rx="8.5" ry="7.6" fill="#8c9500" opacity="0.85"/>
<ellipse cx="1786" cy="216" rx="19.0" ry="17.0" fill="#93b600" opacity="0.45"/>
<ellipse cx="1786" cy="216" rx="13.6" ry="11.9" fill="#93b600" opacity="0.85"/>
<ellipse cx="1820" cy="200" rx="13.0" ry="13.0" fill="#8b9100" opacity="0.45"/>
<ellipse cx="1820" cy="200" rx="8.5" ry="8.5" fill="#8b9100" opacity="0.85"/>
<ellipse cx="2338.6" cy="180" rx="27.0" ry="19.0" fill="#93b600" opacity="0.45"/>
<ellipse cx="2338.6" cy="180" rx="20.4" ry="13.6" fill="#93b600" opacity="0.85"/>
<ellipse cx="2347.7" cy="286.6" rx="19.0" ry="18.0" fill="#91ad00" opacity="0.45"/>
<ellipse cx="2347.7" cy="286.6" rx="13.6" ry="12.8" fill="#91ad00" opacity="0.85"/>
<ellipse cx="2134.5" cy="37" rx="16.0" ry="15.0" fill="#8fa300" opacity="0.45"/>
<ellipse cx="2134.5" cy="37" rx="11.0" ry="10.2" fill="#8fa300" opacity="0.85"/>
<ellipse cx="2044" cy="48.5" rx="17.0" ry="16.0" fill="#8fa300" opacity="0.45"/>
<ellipse cx="2044" cy="48.5" rx="11.9" ry="11.0" fill="#8fa300" opacity="0.85"/>
<ellipse cx="2361" cy="114" rx="21.0" ry="21.0" fill="#8c9500" opacity="0.45"/>
<ellipse cx="2361" cy="114" rx="15.3" ry="15.3" fill="#8c9500" opacity="0.85"/>
<ellipse cx="2293" cy="359" rx="21.0" ry="19.0" fill="#8d9a00" opacity="0.45"/>
<ellipse cx="2293" cy="359" rx="15.3" ry="13.6" fill="#8d9a00" opacity="0.85"/>
<ellipse cx="2127.7" cy="257" rx="14.0" ry="14.0" fill="#8c9500" opacity="0.45"/>
<ellipse cx="2127.7" cy="257" rx="9.3" ry="9.3" fill="#8c9500" opacity="0.85"/>
<ellipse cx="2286.4" cy="257" rx="13.0" ry="13.0" fill="#8c9500" opacity="0.45"/>
<ellipse cx="2286.4" cy="257" rx="8.5" ry="8.5" fill="#8c9500" opacity="0.85"/>
<ellipse cx="1856" cy="610" rx="28.0" ry="23.0" fill="#96c000" opacity="0.45"/>
<ellipse cx="1856" cy="610" rx="21.2" ry="17.0" fill="#96c000" opacity="0.85"/>
<ellipse cx="1956" cy="594" rx="28.0" ry="23.0" fill="#96c000" opacity="0.45"/>
<ellipse cx="1956" cy="594" rx="21.2" ry="17.0" fill="#96c000" opacity="0.85"/>
<ellipse cx="1899" cy="680.6" rx="38.0" ry="27.0" fill="#96c000" opacity="0.45"/>
<ellipse cx="1899" cy="680.6" rx="29.8" ry="20.4" fill="#96c000" opacity="0.85"/>
<ellipse cx="1994.5" cy="655.6" rx="17.0" ry="17.0" fill="#91ad00" opacity="0.45"/>
<ellipse cx="1994.5" cy="655.6" rx="11.9" ry="11.9" fill="#91ad00" opacity="0.85"/>
<ellipse cx="2026" cy="640" rx="15.0" ry="15.0" fill="#90a800" opacity="0.45"/>
<ellipse cx="2026" cy="640" rx="10.2" ry="10.2" fill="#90a800" opacity="0.85"/>
<ellipse cx="1820" cy="562.7" rx="18.0" ry="18.0" fill="#8d9a00" opacity="0.45"/>
<ellipse cx="1820" cy="562.7" rx="12.8" ry="12.8" fill="#8d9a00" opacity="0.85"/>
<ellipse cx="1752" cy="581" rx="18.0" ry="18.0" fill="#8b9100" opacity="0.45"/>
<ellipse cx="1752" cy="581" rx="12.8" ry="12.8" fill="#8b9100" opacity="0.85"/>
<ellipse cx="1813" cy="417.5" rx="18.0" ry="18.0" fill="#8b9100" opacity="0.45"/>
<ellipse cx="1813" cy="417.5" rx="12.8" ry="12.8" fill="#8b9100" opacity="0.85"/>
<ellipse cx="1951" cy="429" rx="18.0" ry="18.0" fill="#8b9100" opacity="0.45"/>
<ellipse cx="1951" cy="429" rx="12.8" ry="12.8" fill="#8b9100" opacity="0.85"/>
<ellipse cx="1897" cy="476.5" rx="17.0" ry="17.0" fill="#898c00" opacity="0.45"/>
<ellipse cx="1897" cy="476.5" rx="11.9" ry="11.9" fill="#898c00" opacity="0.85"/>
<ellipse cx="2003.5" cy="445" rx="16.0" ry="16.0" fill="#898c00" opacity="0.45"/>
<ellipse cx="2003.5" cy="445" rx="11.0" ry="11.0" fill="#898c00" opacity="0.85"/>
<ellipse cx="1690.6" cy="535.5" rx="17.0" ry="17.0" fill="#898c00" opacity="0.45"/>
<ellipse cx="1690.6" cy="535.5" rx="11.9" ry="11.9" fill="#898c00" opacity="0.85"/>
<ellipse cx="1883" cy="549" rx="16.0" ry="16.0" fill="#898c00" opacity="0.45"/>
<ellipse cx="1883" cy="549" rx="11.0" ry="11.0" fill="#898c00" opacity="0.85"/>
<ellipse cx="1831" cy="649" rx="15.0" ry="15.0" fill="#8b9100" opacity="0.45"/>
<ellipse cx="1831" cy="649" rx="10.2" ry="10.2" fill="#8b9100" opacity="0.85"/>
<ellipse cx="1774.5" cy="712" rx="15.0" ry="15.0" fill="#8b9100" opacity="0.45"/>
<ellipse cx="1774.5" cy="712" rx="10.2" ry="10.2" fill="#8b9100" opacity="0.85"/>
<ellipse cx="2105" cy="458" rx="20.0" ry="19.0" fill="#94bb00" opacity="0.45"/>
<ellipse cx="2105" cy="458" rx="14.4" ry="13.6" fill="#94bb00" opacity="0.85"/>
<ellipse cx="2123" cy="481" rx="18.0" ry="17.0" fill="#93b600" opacity="0.45"/>
<ellipse cx="2123" cy="481" rx="12.8" ry="11.9" fill="#93b600" opacity="0.85"/>
<ellipse cx="2307" cy="501.4" rx="21.0" ry="20.0" fill="#92b100" opacity="0.45"/>
<ellipse cx="2307" cy="501.4" rx="15.3" ry="14.4" fill="#92b100" opacity="0.85"/>
<ellipse cx="2309" cy="696.5" rx="21.0" ry="20.0" fill="#93b600" opacity="0.45"/>
<ellipse cx="2309" cy="696.5" rx="15.3" ry="14.4" fill="#93b600" opacity="0.85"/>
<ellipse cx="2313" cy="672" rx="17.0" ry="16.0" fill="#8fa300" opacity="0.45"/>
<ellipse cx="2313" cy="672" rx="11.9" ry="11.0" fill="#8fa300" opacity="0.85"/>
<ellipse cx="2078" cy="624" rx="15.0" ry="15.0" fill="#8fa300" opacity="0.45"/>
<ellipse cx="2078" cy="624" rx="10.2" ry="10.2" fill="#8fa300" opacity="0.85"/>
<ellipse cx="2216" cy="388" rx="15.0" ry="15.0" fill="#8b9100" opacity="0.45"/>
<ellipse cx="2216" cy="388" rx="10.2" ry="10.2" fill="#8b9100" opacity="0.85"/>
<ellipse cx="2273" cy="388" rx="15.0" ry="15.0" fill="#8b9100" opacity="0.45"/>
<ellipse cx="2273" cy="388" rx="10.2" ry="10.2" fill="#8b9100" opacity="0.85"/>
<ellipse cx="2200" cy="431" rx="13.0" ry="13.0" fill="#898c00" opacity="0.45"/>
<ellipse cx="2200" cy="431" rx="8.5" ry="8.5" fill="#898c00" opacity="0.85"/>
<ellipse cx="2302" cy="458" rx="13.0" ry="13.0" fill="#898c00" opacity="0.45"/>
<ellipse cx="2302" cy="458" rx="8.5" ry="8.5" fill="#898c00" opacity="0.85"/>
<ellipse cx="2252" cy="578.5" rx="18.0" ry="18.0" fill="#898c00" opacity="0.45"/>
<ellipse cx="2252" cy="578.5" rx="12.8" ry="12.8" fill="#898c00" opacity="0.85"/>
<ellipse cx="2209" cy="535.5" rx="15.0" ry="15.0" fill="#898c00" opacity="0.45"/>
<ellipse cx="2209" cy="535.5" rx="10.2" ry="10.2" fill="#898c00" opacity="0.85"/>
<ellipse cx="2255" cy="642" rx="14.0" ry="14.0" fill="#8b9100" opacity="0.45"/>
<ellipse cx="2255" cy="642" rx="9.3" ry="9.3" fill="#8b9100" opacity="0.85"/>
<ellipse cx="2211.6" cy="658" rx="14.0" ry="14.0" fill="#8c9500" opacity="0.45"/>
<ellipse cx="2211.6" cy="658" rx="9.3" ry="9.3" fill="#8c9500" opacity="0.85"/>
<ellipse cx="2173" cy="667" rx="15.0" ry="15.0" fill="#8b9100" opacity="0.45"/>
<ellipse cx="2173" cy="667" rx="10.2" ry="10.2" fill="#8b9100" opacity="0.85"/>
<ellipse cx="2352" cy="556" rx="15.0" ry="15.0" fill="#8b9100" opacity="0.45"/>
<ellipse cx="2352" cy="556" rx="10.2" ry="10.2" fill="#8b9100" opacity="0.85"/>
<ellipse cx="2046" cy="528.7" rx="17.0" ry="17.0" fill="#898c00" opacity="0.45"/>
<ellipse cx="2046" cy="528.7" rx="11.9" ry="11.9" fill="#898c00" opacity="0.85"/>
</g>
<text x="1682.3" y="84" font-family="Liberation Sans, Arial, sans-serif" font-size="78" fill="#f6eedc" transform="translate(1682.3,0) scale(1.06,1) translate(-1682.3,0)">c</text>
<text x="1726.8" y="85.6" font-family="Liberation Sans, Arial, sans-serif" font-size="78" fill="#f6eedc">)</text>
</g>
<rect x="236.8" y="812.2" width="945.4" height="683.3" fill="none" stroke="#111" stroke-width="4.6"/>
<line x1="220.3" y1="1484.7" x2="236.8" y2="1484.7" stroke="#111" stroke-width="4.6"/>
<line x1="220.3" y1="1260.5" x2="236.8" y2="1260.5" stroke="#111" stroke-width="4.6"/>
<line x1="220.3" y1="1036.4" x2="236.8" y2="1036.4" stroke="#111" stroke-width="4.6"/>
<line x1="220.3" y1="812.2" x2="236.8" y2="812.2" stroke="#111" stroke-width="4.6"/>
<line x1="227.8" y1="1372.6" x2="236.8" y2="1372.6" stroke="#111" stroke-width="4.6"/>
<line x1="227.8" y1="1148.5" x2="236.8" y2="1148.5" stroke="#111" stroke-width="4.6"/>
<line x1="227.8" y1="924.3" x2="236.8" y2="924.3" stroke="#111" stroke-width="4.6"/>
<line x1="236.8" y1="1495.5" x2="236.8" y2="1511.5" stroke="#111" stroke-width="4.6"/>
<line x1="473.2" y1="1495.5" x2="473.2" y2="1511.5" stroke="#111" stroke-width="4.6"/>
<line x1="709.5" y1="1495.5" x2="709.5" y2="1511.5" stroke="#111" stroke-width="4.6"/>
<line x1="945.8" y1="1495.5" x2="945.8" y2="1511.5" stroke="#111" stroke-width="4.6"/>
<line x1="1182.2" y1="1495.5" x2="1182.2" y2="1511.5" stroke="#111" stroke-width="4.6"/>
<line x1="355.0" y1="1495.5" x2="355.0" y2="1504.0" stroke="#111" stroke-width="4.6"/>
<line x1="591.3" y1="1495.5" x2="591.3" y2="1504.0" stroke="#111" stroke-width="4.6"/>
<line x1="827.7" y1="1495.5" x2="827.7" y2="1504.0" stroke="#111" stroke-width="4.6"/>
<line x1="1064.0" y1="1495.5" x2="1064.0" y2="1504.0" stroke="#111" stroke-width="4.6"/>
<text x="198.8" y="1277.3" text-anchor="end" font-family="'Liberation Sans', Arial, sans-serif" font-size="44.5" fill="#222">1x10</text>
<text x="198.5" y="1252.3" font-family="'Liberation Sans', Arial, sans-serif" font-size="24.5" fill="#222">4</text>
<text x="198.8" y="1053.2" text-anchor="end" font-family="'Liberation Sans', Arial, sans-serif" font-size="44.5" fill="#222">2x10</text>
<text x="198.5" y="1028.2" font-family="'Liberation Sans', Arial, sans-serif" font-size="24.5" fill="#222">4</text>
<text x="198.8" y="829.0" text-anchor="end" font-family="'Liberation Sans', Arial, sans-serif" font-size="44.5" fill="#222">3x10</text>
<text x="198.5" y="804.0" font-family="'Liberation Sans', Arial, sans-serif" font-size="24.5" fill="#222">4</text>
<text x="213.5" y="1491.5" text-anchor="end" font-family="'Liberation Sans', Arial, sans-serif" font-size="44.5" fill="#222">0</text>
<text x="236.8" y="1552.5" text-anchor="middle" font-family="'Liberation Sans', Arial, sans-serif" font-size="45" fill="#222">0</text>
<text x="473.2" y="1552.5" text-anchor="middle" font-family="'Liberation Sans', Arial, sans-serif" font-size="45" fill="#222">100</text>
<text x="709.5" y="1552.5" text-anchor="middle" font-family="'Liberation Sans', Arial, sans-serif" font-size="45" fill="#222">200</text>
<text x="945.8" y="1552.5" text-anchor="middle" font-family="'Liberation Sans', Arial, sans-serif" font-size="45" fill="#222">300</text>
<text x="1182.2" y="1552.5" text-anchor="middle" font-family="'Liberation Sans', Arial, sans-serif" font-size="45" fill="#222">400</text>
<text x="622" y="1625.4" font-family="'Liberation Sans', Arial, sans-serif" font-size="47.5" fill="#222">Time (s)</text>
<text transform="translate(52.9,1298.5) rotate(-90)" x="0" y="0" font-family="'Liberation Sans', Arial, sans-serif" font-size="46" fill="#222" textLength="299.7" lengthAdjust="spacingAndGlyphs">Response(I/I<tspan font-size="33">o</tspan>)</text>
<line x1="309" y1="898.9" x2="386" y2="898.9" stroke="#000" stroke-width="6" stroke-linecap="round"/>
<text x="398" y="909.6" font-family="'Liberation Sans', Arial, sans-serif" font-size="44" fill="#222">OT</text>
<line x1="309" y1="951.9" x2="386" y2="951.9" stroke="#ee1111" stroke-width="6" stroke-linecap="round"/>
<text x="398" y="963.8" font-family="'Liberation Sans', Arial, sans-serif" font-size="44" fill="#222">ROT</text>
<line x1="309" y1="1004.9" x2="386" y2="1004.9" stroke="#55ee11" stroke-width="6" stroke-linecap="round"/>
<text x="398" y="1015.6" font-family="'Liberation Sans', Arial, sans-serif" font-size="44" fill="#222">SOT</text>
<text x="1086.5" y="873.8" font-family="'Liberation Serif', 'Times New Roman', serif" font-weight="bold" font-size="64" letter-spacing="3" fill="#111">d)</text>
<path d="M236.8,1485.5 C240.0,1484.8 249.4,1482.9 256.0,1481.5 C262.6,1480.1 269.4,1478.1 276.1,1477.0 C282.8,1475.9 282.8,1475.9 296.2,1475.0 C309.6,1474.1 336.2,1472.9 356.3,1471.8 C376.4,1470.7 399.8,1469.8 416.5,1468.6 C433.2,1467.4 443.2,1466.1 456.6,1464.6 C470.0,1463.1 484.5,1461.4 496.7,1459.5 C508.9,1457.6 515.0,1455.8 530.0,1453.0 C545.0,1450.2 567.6,1447.0 586.4,1442.5 C605.2,1438.0 624.0,1432.4 642.8,1426.0 C661.6,1419.6 686.4,1409.0 699.2,1404.0 C712.0,1399.0 712.8,1398.8 719.4,1396.0 C726.0,1393.2 731.3,1390.7 738.8,1387.0 C746.3,1383.3 753.8,1379.2 764.6,1374.0 C775.4,1368.8 790.5,1362.0 803.4,1356.0 C816.3,1350.0 829.2,1343.8 842.1,1338.0 C855.0,1332.2 868.0,1326.4 880.9,1321.0 C893.8,1315.6 906.7,1310.5 919.6,1305.6 C932.5,1300.6 946.5,1295.7 958.4,1291.3 C970.2,1286.9 983.8,1281.5 990.7,1279.3 C997.6,1277.1 992.3,1280.1 1000.0,1278.0 C1007.7,1275.9 1021.9,1271.4 1036.8,1266.5 C1051.7,1261.6 1076.3,1252.8 1089.5,1248.6 C1102.7,1244.4 1110.1,1243.7 1115.8,1241.5 C1121.5,1239.3 1119.2,1237.6 1123.7,1235.5 C1128.2,1233.4 1139.2,1229.2 1143.0,1229.0 C1146.8,1228.8 1145.3,1234.7 1146.5,1234.5 C1147.7,1234.3 1148.1,1229.8 1150.0,1228.0 C1151.9,1226.2 1154.9,1225.1 1158.0,1224.0 C1161.1,1222.9 1164.6,1221.8 1168.4,1221.6 C1172.2,1221.3 1178.9,1222.3 1181.0,1222.5" fill="none" stroke="#000" stroke-width="5.2" stroke-linejoin="round" stroke-linecap="round"/>
<path d="M236.8,1486.0 C240.0,1485.8 249.4,1485.2 256.0,1484.6 C262.6,1484.0 269.4,1483.5 276.1,1482.6 C282.8,1481.7 289.3,1480.5 296.0,1479.0 C302.7,1477.5 309.5,1476.0 316.2,1473.8 C322.9,1471.6 329.6,1468.7 336.3,1465.7 C343.0,1462.7 349.6,1459.3 356.3,1455.7 C363.0,1452.1 369.7,1448.4 376.4,1444.2 C383.1,1440.0 389.7,1435.4 396.4,1430.5 C403.1,1425.6 409.8,1420.2 416.5,1414.6 C423.2,1409.0 429.8,1403.0 436.5,1396.8 C443.2,1390.6 449.9,1384.4 456.6,1377.5 C463.3,1370.6 469.9,1363.0 476.6,1355.5 C483.3,1348.0 490.0,1340.3 496.7,1332.4 C503.4,1324.5 511.2,1314.8 516.7,1308.3 C522.2,1301.8 523.1,1302.4 530.0,1293.5 C536.9,1284.6 548.8,1267.7 558.2,1255.0 C567.6,1242.3 577.0,1229.7 586.4,1217.3 C595.8,1204.9 605.2,1192.4 614.6,1180.7 C624.0,1169.0 636.6,1154.5 642.8,1146.9 C649.0,1139.3 649.8,1137.7 652.0,1135.0 C654.2,1132.3 652.8,1133.7 656.0,1131.0 C659.2,1128.3 663.8,1125.5 671.0,1118.7 C678.2,1112.0 689.8,1099.9 699.2,1090.5 C708.6,1081.1 715.6,1072.2 727.3,1062.3 C739.0,1052.4 757.5,1039.1 769.6,1031.3 C781.7,1023.5 790.5,1021.0 800.0,1015.5 C809.5,1010.0 817.5,1003.5 826.3,998.6 C835.1,993.8 843.8,990.2 852.6,986.4 C861.4,982.6 870.1,979.2 878.9,976.0 C887.7,972.8 896.5,969.9 905.3,967.3 C914.1,964.7 922.8,962.4 931.6,960.6 C940.4,958.8 947.8,957.6 957.9,956.3 C968.0,955.0 979.0,954.0 992.1,953.0 C1005.2,952.0 1020.6,950.7 1036.8,950.0 C1053.0,949.3 1074.2,948.6 1089.5,948.6 C1104.8,948.6 1117.9,949.5 1128.9,950.2 C1139.9,950.9 1146.6,951.9 1155.3,952.8 C1164.0,953.7 1176.7,955.0 1181.0,955.5" fill="none" stroke="#ee1111" stroke-width="5.2" stroke-linejoin="round" stroke-linecap="round"/>
<path d="M236.8,1485.5 C241.7,1485.0 256.1,1483.2 266.0,1482.2 C275.9,1481.2 286.2,1480.6 296.2,1479.8 C306.2,1479.0 316.0,1478.0 326.0,1477.2 C336.0,1476.4 344.6,1476.1 356.3,1474.8 C368.0,1473.5 383.0,1472.1 396.4,1469.5 C409.8,1466.9 426.5,1462.1 436.5,1459.0 C446.5,1455.9 449.9,1454.0 456.6,1451.0 C463.3,1448.0 469.9,1444.7 476.6,1441.0 C483.3,1437.3 490.0,1433.2 496.7,1428.8 C503.4,1424.4 511.2,1418.5 516.7,1414.8 C522.2,1411.1 523.1,1411.2 530.0,1406.5 C536.9,1401.8 548.8,1393.7 558.2,1386.5 C567.6,1379.3 577.0,1372.0 586.4,1363.5 C595.8,1355.0 605.2,1345.1 614.6,1335.8 C624.0,1326.5 633.4,1316.9 642.8,1307.6 C652.2,1298.3 661.6,1288.6 671.0,1280.0 C680.4,1271.4 689.8,1264.5 699.2,1256.0 C708.6,1247.5 720.3,1235.9 727.3,1229.0 C734.3,1222.1 734.3,1220.0 741.4,1214.5 C748.5,1209.0 759.8,1202.2 769.6,1196.0 C779.4,1189.8 790.5,1183.1 800.0,1177.4 C809.5,1171.7 817.5,1166.8 826.3,1161.6 C835.1,1156.4 845.3,1150.3 852.6,1146.5 C859.9,1142.7 866.4,1141.1 870.0,1139.0 C873.6,1136.9 865.9,1137.2 874.0,1134.0 C882.1,1130.8 905.3,1123.6 918.4,1119.8 C931.5,1116.0 943.4,1113.8 952.6,1111.4 C961.8,1109.0 964.1,1106.6 973.7,1105.3 C983.4,1104.0 993.4,1104.6 1010.5,1103.6 C1027.6,1102.5 1054.4,1099.7 1076.3,1099.0 C1098.2,1098.3 1124.6,1098.9 1142.1,1099.5 C1159.5,1100.1 1174.5,1102.1 1181.0,1102.6" fill="none" stroke="#55ee11" stroke-width="5.2" stroke-linejoin="round" stroke-linecap="round"/>
<rect x="1470.4" y="812.0" width="930.6" height="697.6" fill="none" stroke="#111" stroke-width="4.6"/>
<line x1="1454.4" y1="1446.2" x2="1470.4" y2="1446.2" stroke="#111" stroke-width="4.6"/>
<line x1="1454.4" y1="1287.7" x2="1470.4" y2="1287.7" stroke="#111" stroke-width="4.6"/>
<line x1="1454.4" y1="1129.1" x2="1470.4" y2="1129.1" stroke="#111" stroke-width="4.6"/>
<line x1="1454.4" y1="970.5" x2="1470.4" y2="970.5" stroke="#111" stroke-width="4.6"/>
<line x1="1454.4" y1="812.0" x2="1470.4" y2="812.0" stroke="#111" stroke-width="4.6"/>
<line x1="1461.4" y1="1366.9" x2="1470.4" y2="1366.9" stroke="#111" stroke-width="4.6"/>
<line x1="1461.4" y1="1208.4" x2="1470.4" y2="1208.4" stroke="#111" stroke-width="4.6"/>
<line x1="1461.4" y1="1049.8" x2="1470.4" y2="1049.8" stroke="#111" stroke-width="4.6"/>
<line x1="1461.4" y1="891.3" x2="1470.4" y2="891.3" stroke="#111" stroke-width="4.6"/>
<line x1="1470.4" y1="1509.6" x2="1470.4" y2="1523.6" stroke="#111" stroke-width="4.6"/>
<line x1="1736.0" y1="1509.6" x2="1736.0" y2="1523.6" stroke="#111" stroke-width="4.6"/>
<line x1="2001.6" y1="1509.6" x2="2001.6" y2="1523.6" stroke="#111" stroke-width="4.6"/>
<line x1="2267.2" y1="1509.6" x2="2267.2" y2="1523.6" stroke="#111" stroke-width="4.6"/>
<line x1="1603.2" y1="1509.6" x2="1603.2" y2="1518.6" stroke="#111" stroke-width="4.6"/>
<line x1="1868.8" y1="1509.6" x2="1868.8" y2="1518.6" stroke="#111" stroke-width="4.6"/>
<line x1="2134.4" y1="1509.6" x2="2134.4" y2="1518.6" stroke="#111" stroke-width="4.6"/>
<line x1="2400.0" y1="1509.6" x2="2400.0" y2="1518.6" stroke="#111" stroke-width="4.6"/>
<text x="1435" y="1462.5" text-anchor="end" font-family="'Liberation Sans', Arial, sans-serif" font-size="44" fill="#222" transform="translate(1435,0) scale(0.955,1) translate(-1435,0)">1.0x10</text>
<text x="1433.5" y="1438.0" font-family="'Liberation Sans', Arial, sans-serif" font-size="24" fill="#222">4</text>
<text x="1435" y="1304.0" text-anchor="end" font-family="'Liberation Sans', Arial, sans-serif" font-size="44" fill="#222" transform="translate(1435,0) scale(0.955,1) translate(-1435,0)">1.5x10</text>
<text x="1433.5" y="1279.5" font-family="'Liberation Sans', Arial, sans-serif" font-size="24" fill="#222">4</text>
<text x="1435" y="1145.4" text-anchor="end" font-family="'Liberation Sans', Arial, sans-serif" font-size="44" fill="#222" transform="translate(1435,0) scale(0.955,1) translate(-1435,0)">2.0x10</text>
<text x="1433.5" y="1120.9" font-family="'Liberation Sans', Arial, sans-serif" font-size="24" fill="#222">4</text>
<text x="1435" y="986.8" text-anchor="end" font-family="'Liberation Sans', Arial, sans-serif" font-size="44" fill="#222" transform="translate(1435,0) scale(0.955,1) translate(-1435,0)">2.5x10</text>
<text x="1433.5" y="962.3" font-family="'Liberation Sans', Arial, sans-serif" font-size="24" fill="#222">4</text>
<text x="1435" y="828.3" text-anchor="end" font-family="'Liberation Sans', Arial, sans-serif" font-size="44" fill="#222" transform="translate(1435,0) scale(0.955,1) translate(-1435,0)">3.0x10</text>
<text x="1433.5" y="803.8" font-family="'Liberation Sans', Arial, sans-serif" font-size="24" fill="#222">4</text>
<text x="1470.4" y="1566.4" text-anchor="middle" font-family="'Liberation Sans', Arial, sans-serif" font-size="44" fill="#222">20</text>
<text x="1736.0" y="1566.4" text-anchor="middle" font-family="'Liberation Sans', Arial, sans-serif" font-size="44" fill="#222">40</text>
<text x="2001.6" y="1566.4" text-anchor="middle" font-family="'Liberation Sans', Arial, sans-serif" font-size="44" fill="#222">60</text>
<text x="2267.2" y="1566.4" text-anchor="middle" font-family="'Liberation Sans', Arial, sans-serif" font-size="44" fill="#222">80</text>
<text x="1775" y="1636.1" font-family="'Liberation Sans', Arial, sans-serif" font-size="42.3" fill="#222">Film Thickness (nm)</text>
<text transform="translate(1280.4,1302.2) rotate(-90)" x="0" y="0" font-family="'Liberation Sans', Arial, sans-serif" font-size="42" fill="#222" textLength="279.6" lengthAdjust="spacingAndGlyphs">Response (I/I<tspan font-size="25" dy="17.5">o</tspan><tspan dy="-17.5">)</tspan></text>
<path d="M1616.1,1018.0 L1776.3,997.5 L1949.0,1011.0 L2295.0,1017.0" fill="none" stroke="#55ee11" stroke-width="5.5" stroke-linejoin="round"/>
<path d="M1603.1,1220.9 L1696.1,1224.2 L1975.8,1220.0 L2214.6,1222.3" fill="none" stroke="#ee1111" stroke-width="5.5" stroke-linejoin="round"/>
<path d="M1550.6,1393.5 C1620,1391 1700,1389 1762.9,1386.2 C1860,1382 1980,1378 2069.2,1378 C2140,1378 2220,1379 2281.5,1379.5" fill="none" stroke="#000" stroke-width="5.5"/>
<path d="M1616.1,1001.0 L1632.1,1028.0 L1600.1,1028.0 Z" fill="#55ee11"/>
<path d="M1776.3,980.5 L1792.3,1007.5 L1760.3,1007.5 Z" fill="#55ee11"/>
<path d="M1949.0,994.0 L1965.0,1021.0 L1933.0,1021.0 Z" fill="#55ee11"/>
<path d="M2295.0,1000.0 L2311.0,1027.0 L2279.0,1027.0 Z" fill="#55ee11"/>
<circle cx="1603.1" cy="1220.9" r="13.5" fill="#ee1111"/>
<circle cx="1696.1" cy="1224.2" r="13.5" fill="#ee1111"/>
<circle cx="1975.8" cy="1220.0" r="13.5" fill="#ee1111"/>
<circle cx="2214.6" cy="1222.3" r="13.5" fill="#ee1111"/>
<rect x="1538.6" y="1381.5" width="24" height="24" fill="#000"/>
<rect x="1750.9" y="1374.2" width="24" height="24" fill="#000"/>
<rect x="2057.2" y="1366.0" width="24" height="24" fill="#000"/>
<rect x="2269.5" y="1367.5" width="24" height="24" fill="#000"/>
<line x1="1511" y1="848.6" x2="1586" y2="848.6" stroke="#000" stroke-width="5.5" stroke-linecap="round"/>
<rect x="1542.1" y="842.1" width="13" height="13" fill="#000"/>
<text x="1596" y="859.6" font-family="'Liberation Sans', Arial, sans-serif" font-size="43" fill="#222">OT</text>
<line x1="1511" y1="900.2" x2="1586" y2="900.2" stroke="#ee1111" stroke-width="5.5" stroke-linecap="round"/>
<circle cx="1548.6" cy="900.2" r="7" fill="#ee1111"/>
<text x="1596" y="912.2" font-family="'Liberation Sans', Arial, sans-serif" font-size="43" fill="#222">SOT</text>
<line x1="1511" y1="951.3" x2="1586" y2="951.3" stroke="#55ee11" stroke-width="5.5" stroke-linecap="round"/>
<path d="M1548.6,942.3 L1556.6,955.3 L1540.6,955.3 Z" fill="#55ee11"/>
<text x="1596" y="963.4" font-family="'Liberation Sans', Arial, sans-serif" font-size="43" fill="#222">ROT</text>
<text x="2302.5" y="868.2" font-family="'Liberation Serif', 'Times New Roman', serif" font-weight="bold" font-size="63" letter-spacing="3.5" fill="#111">e)</text>
</svg></body></html>
